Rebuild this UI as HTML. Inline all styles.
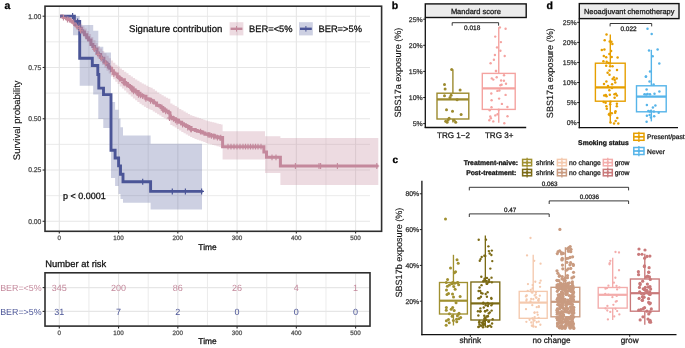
<!DOCTYPE html>
<html><head><meta charset="utf-8"><style>
html,body{margin:0;padding:0;background:#fff;}
svg{display:block;will-change:transform;text-rendering:geometricPrecision;}
</style></head><body>
<svg width="685" height="348" viewBox="0 0 685 348">
<rect width="685" height="348" fill="#fff"/>
<line x1="59.3" y1="6.5" x2="59.3" y2="230.8" stroke="#e6e6e6" stroke-width="1.1"/>
<line x1="88.93" y1="6.5" x2="88.93" y2="230.8" stroke="#e6e6e6" stroke-width="0.8"/>
<line x1="118.56" y1="6.5" x2="118.56" y2="230.8" stroke="#e6e6e6" stroke-width="1.1"/>
<line x1="148.19" y1="6.5" x2="148.19" y2="230.8" stroke="#e6e6e6" stroke-width="0.8"/>
<line x1="177.82" y1="6.5" x2="177.82" y2="230.8" stroke="#e6e6e6" stroke-width="1.1"/>
<line x1="207.45" y1="6.5" x2="207.45" y2="230.8" stroke="#e6e6e6" stroke-width="0.8"/>
<line x1="237.08" y1="6.5" x2="237.08" y2="230.8" stroke="#e6e6e6" stroke-width="1.1"/>
<line x1="266.71" y1="6.5" x2="266.71" y2="230.8" stroke="#e6e6e6" stroke-width="0.8"/>
<line x1="296.34" y1="6.5" x2="296.34" y2="230.8" stroke="#e6e6e6" stroke-width="1.1"/>
<line x1="325.97" y1="6.5" x2="325.97" y2="230.8" stroke="#e6e6e6" stroke-width="0.8"/>
<line x1="355.6" y1="6.5" x2="355.6" y2="230.8" stroke="#e6e6e6" stroke-width="1.1"/>
<line x1="45.5" y1="221.3" x2="370" y2="221.3" stroke="#e6e6e6" stroke-width="1.1"/>
<line x1="45.5" y1="195.66" x2="370" y2="195.66" stroke="#e6e6e6" stroke-width="0.8"/>
<line x1="45.5" y1="170.03" x2="370" y2="170.03" stroke="#e6e6e6" stroke-width="1.1"/>
<line x1="45.5" y1="144.39" x2="370" y2="144.39" stroke="#e6e6e6" stroke-width="0.8"/>
<line x1="45.5" y1="118.75" x2="370" y2="118.75" stroke="#e6e6e6" stroke-width="1.1"/>
<line x1="45.5" y1="93.11" x2="370" y2="93.11" stroke="#e6e6e6" stroke-width="0.8"/>
<line x1="45.5" y1="67.48" x2="370" y2="67.48" stroke="#e6e6e6" stroke-width="1.1"/>
<line x1="45.5" y1="41.84" x2="370" y2="41.84" stroke="#e6e6e6" stroke-width="0.8"/>
<line x1="45.5" y1="16.2" x2="370" y2="16.2" stroke="#e6e6e6" stroke-width="1.1"/>
<path d="M60.3,16.1 H61.48 V16.63 H63.25 V17.27 H64.07 V17.53 H66.46 V18.77 H68.02 V19.55 H70.21 V20.92 H72.09 V21.64 H73.83 V23.05 H75.39 V24.72 H77.33 V26.64 H78.84 V27.94 H79.8 V28.26 H81.3 V30.7 H82.71 V32.07 H84.45 V34.76 H86.73 V37.77 H88.61 V40.08 H90.95 V44.54 H92.89 V46.6 H94.61 V49.09 H97 V53.03 H98.45 V54.47 H100.65 V57.36 H101.52 V58.16 H103.89 V61.8 H105.19 V62.38 H106.04 V63.24 H107.09 V64.51 H108.39 V66.99 H109.79 V68.34 H111.62 V70.79 H113.41 V73.08 H114.9 V74.11 H117.27 V76.75 H118.09 V76.71 H118.92 V77.71 H119.82 V78.53 H121.18 V79.91 H122.01 V79.87 H124.36 V82.62 H125.67 V83.38 H127.42 V84.94 H128.26 V85.46 H129.56 V86.42 H130.74 V87.3 H131.71 V88.1 H133.21 V89.96 H135.05 V91.37 H136.04 V91.5 H138.18 V93.19 H140.01 V94.9 H141.28 V95.42 H142.74 V96.09 H143.79 V96.29 H146 V98.81 H148.28 V99.21 H150.42 V100.33 H151.69 V100.73 H153.43 V102.22 H154.3 V103.04 H156.58 V105.15 H158.3 V105.38 H159.38 V106.12 H161.02 V107.52 H162.8 V108.75 H164.36 V110.12 H166.01 V111.33 H168.29 V112.45 H169.1 V112.88 H169.98 V118 H171.46 V117.55 H172.26 V117.42 H173.17 V118.66 H174.11 V118.77 H175.47 V119.79 H176.85 V120.37 H178.54 V121.97 H179.62 V122.19 H181.67 V123.66 H183.47 V124.64 H185.4 V125.78 H186.93 V126.41 H188.85 V127.48 H191.05 V129.44 H193.12 V129.39 H195.22 V130.46 H197.29 V131.19 H198.99 V131.28 H199.8 V131.44 H200.67 V131.72 H201.75 V132.09 H202.75 V133.08 H204.89 V134.13 H206.96 V134.08 H208.58 V134.94 H210.88 V135.15 H213 V135.86 H214.79 V136.7 H216.22 V136.72 H217.82 V137.68 H218.88 V137.67 H220.76 V138.15 H220.8 V137.62 H222.6 V146.7 H263.9 V152 H266.5 V157.3 H280.4 V166 H378.3" fill="none" stroke="#c4899c" stroke-width="3.0" stroke-linejoin="miter"/>
<path d="M60.1,16.1 H74.4 V21.5 H79.7 V58.3 H92.3 V65.5 H97.8 V74.5 H98.8 V88.1 H103.5 V94.6 H111 V150.3 H115.1 V158 H118.6 V165.9 H120.5 V174.2 H123 V181.7 H150.6 V191.4 H202.6" fill="none" stroke="#4b5597" stroke-width="2.9"/>
<path d="M60.3,14.56 L62.5,14.56 L62.5,14.84 L64.7,14.84 L64.7,15.15 L66.9,15.15 L66.9,15.95 L69.1,15.95 L69.1,16.76 L71.3,16.76 L71.3,17.76 L73.5,17.76 L73.5,18.83 L75.7,18.83 L75.7,20.32 L77.9,20.32 L77.9,21.81 L80.1,21.81 L80.1,23.87 L82.3,23.87 L82.3,26.19 L84.5,26.19 L84.5,28.56 L86.7,28.56 L86.7,30.95 L88.9,30.95 L88.9,34.03 L91.1,34.03 L91.1,37.05 L93.3,37.05 L93.3,40.03 L95.5,40.03 L95.5,43.02 L97.7,43.02 L97.7,46.01 L99.9,46.01 L99.9,48.51 L102.1,48.51 L102.1,50.92 L104.3,50.92 L104.3,53.34 L106.5,53.34 L106.5,55.75 L108.7,55.75 L108.7,58.15 L110.9,58.15 L110.9,60.48 L113.1,60.48 L113.1,62.76 L115.3,62.76 L115.3,64.7 L117.5,64.7 L117.5,66.62 L119.7,66.62 L119.7,68.48 L121.9,68.48 L121.9,70.1 L124.1,70.1 L124.1,71.73 L126.3,71.73 L126.3,73.36 L128.5,73.36 L128.5,74.92 L130.7,74.92 L130.7,76.49 L132.9,76.49 L132.9,78.06 L135.1,78.06 L135.1,79.45 L137.3,79.45 L137.3,80.82 L139.5,80.82 L139.5,82.19 L141.7,82.19 L141.7,83.4 L143.9,83.4 L143.9,84.55 L146.1,84.55 L146.1,85.81 L148.3,85.81 L148.3,86.88 L150.5,86.88 L150.5,87.8 L152.7,87.8 L152.7,89.25 L154.9,89.25 L154.9,90.85 L157.1,90.85 L157.1,92.39 L159.3,92.39 L159.3,93.88 L161.5,93.88 L161.5,95.23 L163.7,95.23 L163.7,96.54 L165.9,96.54 L165.9,97.85 L168.1,97.85 L168.1,98.74 L170.3,98.74 L170.3,103.57 L172.5,103.57 L172.5,104.78 L174.7,104.78 L174.7,105.99 L176.9,105.99 L176.9,107.43 L179.1,107.43 L179.1,108.9 L181.3,108.9 L181.3,110.23 L183.5,110.23 L183.5,111.46 L185.7,111.46 L185.7,112.68 L187.9,112.68 L187.9,113.91 L190.1,113.91 L190.1,115.14 L192.3,115.14 L192.3,116.03 L194.5,116.03 L194.5,116.78 L196.7,116.78 L196.7,117.52 L198.9,117.52 L198.9,118.26 L201.1,118.26 L201.1,119.01 L203.3,119.01 L203.3,119.75 L205.5,119.75 L205.5,120.49 L207.7,120.49 L207.7,121.15 L209.9,121.15 L209.9,121.73 L212.1,121.73 L212.1,122.3 L214.3,122.3 L214.3,122.87 L216.5,122.87 L216.5,123.43 L218.7,123.43 L218.7,123.99 L220.9,123.99 L220.9,124.55 L222.6,124.55 L222.6,131.2 L265,131.2 L265,136.3 L280.4,136.3 L280.4,138.1 L378.3,138.1 L378.3,184.9 L280.4,184.9 L280.4,173.1 L265,173.1 L265,159.4 L222.6,159.4 L222.6,147.4 L220.9,147.4 L220.9,146.78 L218.7,146.78 L218.7,146.16 L216.5,146.16 L216.5,145.53 L214.3,145.53 L214.3,144.9 L212.1,144.9 L212.1,144.27 L209.9,144.27 L209.9,143.63 L207.7,143.63 L207.7,142.91 L205.5,142.91 L205.5,142.11 L203.3,142.11 L203.3,141.3 L201.1,141.3 L201.1,140.5 L198.9,140.5 L198.9,139.69 L196.7,139.69 L196.7,138.89 L194.5,138.89 L194.5,138.08 L192.3,138.08 L192.3,137.12 L190.1,137.12 L190.1,135.83 L187.9,135.83 L187.9,134.54 L185.7,134.54 L185.7,133.26 L183.5,133.26 L183.5,131.97 L181.3,131.97 L181.3,130.59 L179.1,130.59 L179.1,129.07 L176.9,129.07 L176.9,127.58 L174.7,127.58 L174.7,126.33 L172.5,126.33 L172.5,125.08 L170.3,125.08 L170.3,120.28 L168.1,120.28 L168.1,119.43 L165.9,119.43 L165.9,118.16 L163.7,118.16 L163.7,116.9 L161.5,116.9 L161.5,115.62 L159.3,115.62 L159.3,114.26 L157.1,114.26 L157.1,112.86 L154.9,112.86 L154.9,111.38 L152.7,111.38 L152.7,110.07 L150.5,110.07 L150.5,109.18 L148.3,109.18 L148.3,108.11 L146.1,108.11 L146.1,106.68 L143.9,106.68 L143.9,105.19 L141.7,105.19 L141.7,103.65 L139.5,103.65 L139.5,101.94 L137.3,101.94 L137.3,100.23 L135.1,100.23 L135.1,98.5 L132.9,98.5 L132.9,96.6 L130.7,96.6 L130.7,94.62 L128.5,94.62 L128.5,92.62 L126.3,92.62 L126.3,90.55 L124.1,90.55 L124.1,88.48 L121.9,88.48 L121.9,86.41 L119.7,86.41 L119.7,84.06 L117.5,84.06 L117.5,81.64 L115.3,81.64 L115.3,79.21 L113.1,79.21 L113.1,76.43 L110.9,76.43 L110.9,73.61 L108.7,73.61 L108.7,70.71 L106.5,70.71 L106.5,67.81 L104.3,67.81 L104.3,64.9 L102.1,64.9 L102.1,61.98 L99.9,61.98 L99.9,58.82 L97.7,58.82 L97.7,55.17 L95.5,55.17 L95.5,51.52 L93.3,51.52 L93.3,47.88 L91.1,47.88 L91.1,44.31 L88.9,44.31 L88.9,40.79 L86.7,40.79 L86.7,37.96 L84.5,37.96 L84.5,35.15 L82.3,35.15 L82.3,32.39 L80.1,32.39 L80.1,29.78 L77.9,29.78 L77.9,27.75 L75.7,27.75 L75.7,25.71 L73.5,25.71 L73.5,24.09 L71.3,24.09 L71.3,22.49 L69.1,22.49 L69.1,21.02 L66.9,21.02 L66.9,19.56 L64.7,19.56 L64.7,18.59 L62.5,18.59 L62.5,17.65 L60.3,17.65 Z" fill="#c4899c" fill-opacity="0.3"/>
<path d="M73,16.1 L79.7,16.1 L79.7,25 L93.2,25 L93.2,30.7 L98.3,30.7 L98.3,46.8 L103.3,46.8 L103.3,52.5 L111,52.5 L111,101.9 L115.1,101.9 L115.1,109.8 L118.6,109.8 L118.6,118.5 L120.5,118.5 L120.5,127.2 L123,127.2 L123,135.5 L150.6,135.5 L150.6,143.8 L202,143.8 L202,209.5 L150.6,209.5 L150.6,202.8 L123,202.8 L123,199 L120.5,199 L120.5,194 L118.6,194 L118.6,186 L115.1,186 L115.1,178 L111,178 L111,128 L103.3,128 L103.3,119.1 L98.3,119.1 L98.3,94.4 L93.2,94.4 L93.2,85.8 L79.7,85.8 L79.7,35.3 L73,35.3 Z" fill="#4b5597" fill-opacity="0.28"/>
<path d="M63.44,14.63 V20.43 M61.04,17.53 H65.84" stroke="#c4899c" stroke-width="1.1" fill="none"/>
<path d="M67.45,16.65 V22.45 M65.05,19.55 H69.85" stroke="#c4899c" stroke-width="1.1" fill="none"/>
<path d="M73.6,20.15 V25.95 M71.2,23.05 H76" stroke="#c4899c" stroke-width="1.1" fill="none"/>
<path d="M76.94,23.74 V29.54 M74.54,26.64 H79.34" stroke="#c4899c" stroke-width="1.1" fill="none"/>
<path d="M79.77,25.36 V31.16 M77.37,28.26 H82.17" stroke="#c4899c" stroke-width="1.1" fill="none"/>
<path d="M80.56,27.8 V33.6 M78.16,30.7 H82.96" stroke="#c4899c" stroke-width="1.1" fill="none"/>
<path d="M94.36,46.19 V51.99 M91.96,49.09 H96.76" stroke="#c4899c" stroke-width="1.1" fill="none"/>
<path d="M98.12,51.57 V57.37 M95.72,54.47 H100.52" stroke="#c4899c" stroke-width="1.1" fill="none"/>
<path d="M101.42,55.26 V61.06 M99.02,58.16 H103.82" stroke="#c4899c" stroke-width="1.1" fill="none"/>
<path d="M105.7,60.34 V66.14 M103.3,63.24 H108.1" stroke="#c4899c" stroke-width="1.1" fill="none"/>
<path d="M113.86,71.21 V77.01 M111.46,74.11 H116.26" stroke="#c4899c" stroke-width="1.1" fill="none"/>
<path d="M119.53,75.63 V81.43 M117.13,78.53 H121.93" stroke="#c4899c" stroke-width="1.1" fill="none"/>
<path d="M123.4,79.72 V85.52 M121,82.62 H125.8" stroke="#c4899c" stroke-width="1.1" fill="none"/>
<path d="M124.84,80.48 V86.28 M122.44,83.38 H127.24" stroke="#c4899c" stroke-width="1.1" fill="none"/>
<path d="M127.02,82.04 V87.84 M124.62,84.94 H129.42" stroke="#c4899c" stroke-width="1.1" fill="none"/>
<path d="M130.39,84.4 V90.2 M127.99,87.3 H132.79" stroke="#c4899c" stroke-width="1.1" fill="none"/>
<path d="M131.54,85.2 V91 M129.14,88.1 H133.94" stroke="#c4899c" stroke-width="1.1" fill="none"/>
<path d="M132.21,87.06 V92.86 M129.81,89.96 H134.61" stroke="#c4899c" stroke-width="1.1" fill="none"/>
<path d="M133.62,88.47 V94.27 M131.22,91.37 H136.02" stroke="#c4899c" stroke-width="1.1" fill="none"/>
<path d="M135.85,88.6 V94.4 M133.45,91.5 H138.25" stroke="#c4899c" stroke-width="1.1" fill="none"/>
<path d="M137.77,90.29 V96.09 M135.37,93.19 H140.17" stroke="#c4899c" stroke-width="1.1" fill="none"/>
<path d="M138.42,92 V97.8 M136.02,94.9 H140.82" stroke="#c4899c" stroke-width="1.1" fill="none"/>
<path d="M140.45,92.52 V98.32 M138.05,95.42 H142.85" stroke="#c4899c" stroke-width="1.1" fill="none"/>
<path d="M142.63,93.19 V98.99 M140.23,96.09 H145.03" stroke="#c4899c" stroke-width="1.1" fill="none"/>
<path d="M145.89,95.91 V101.71 M143.49,98.81 H148.29" stroke="#c4899c" stroke-width="1.1" fill="none"/>
<path d="M150.51,97.83 V103.63 M148.11,100.73 H152.91" stroke="#c4899c" stroke-width="1.1" fill="none"/>
<path d="M162.55,105.85 V111.65 M160.15,108.75 H164.95" stroke="#c4899c" stroke-width="1.1" fill="none"/>
<path d="M163.1,107.22 V113.02 M160.7,110.12 H165.5" stroke="#c4899c" stroke-width="1.1" fill="none"/>
<path d="M165.67,108.43 V114.23 M163.27,111.33 H168.07" stroke="#c4899c" stroke-width="1.1" fill="none"/>
<path d="M169.57,115.1 V120.9 M167.17,118 H171.97" stroke="#c4899c" stroke-width="1.1" fill="none"/>
<path d="M171.56,114.52 V120.32 M169.16,117.42 H173.96" stroke="#c4899c" stroke-width="1.1" fill="none"/>
<path d="M173.47,115.87 V121.67 M171.07,118.77 H175.87" stroke="#c4899c" stroke-width="1.1" fill="none"/>
<path d="M175.64,117.47 V123.27 M173.24,120.37 H178.04" stroke="#c4899c" stroke-width="1.1" fill="none"/>
<path d="M176.98,119.07 V124.87 M174.58,121.97 H179.38" stroke="#c4899c" stroke-width="1.1" fill="none"/>
<path d="M182.57,121.74 V127.54 M180.17,124.64 H184.97" stroke="#c4899c" stroke-width="1.1" fill="none"/>
<path d="M187.75,124.58 V130.38 M185.35,127.48 H190.15" stroke="#c4899c" stroke-width="1.1" fill="none"/>
<path d="M190.83,126.54 V132.34 M188.43,129.44 H193.23" stroke="#c4899c" stroke-width="1.1" fill="none"/>
<path d="M191.31,126.49 V132.29 M188.91,129.39 H193.71" stroke="#c4899c" stroke-width="1.1" fill="none"/>
<path d="M200.56,128.82 V134.62 M198.16,131.72 H202.96" stroke="#c4899c" stroke-width="1.1" fill="none"/>
<path d="M208.18,132.04 V137.84 M205.78,134.94 H210.58" stroke="#c4899c" stroke-width="1.1" fill="none"/>
<path d="M209.88,132.25 V138.05 M207.48,135.15 H212.28" stroke="#c4899c" stroke-width="1.1" fill="none"/>
<path d="M211.41,132.96 V138.76 M209.01,135.86 H213.81" stroke="#c4899c" stroke-width="1.1" fill="none"/>
<path d="M213.66,133.8 V139.6 M211.26,136.7 H216.06" stroke="#c4899c" stroke-width="1.1" fill="none"/>
<path d="M214.91,133.82 V139.62 M212.51,136.72 H217.31" stroke="#c4899c" stroke-width="1.1" fill="none"/>
<path d="M217.42,134.78 V140.58 M215.02,137.68 H219.82" stroke="#c4899c" stroke-width="1.1" fill="none"/>
<path d="M220.09,135.25 V141.05 M217.69,138.15 H222.49" stroke="#c4899c" stroke-width="1.1" fill="none"/>
<path d="M220.79,134.72 V140.52 M218.39,137.62 H223.19" stroke="#c4899c" stroke-width="1.1" fill="none"/>
<path d="M228,143.8 V149.6 M225.6,146.7 H230.4" stroke="#c4899c" stroke-width="1.1" fill="none"/>
<path d="M231,143.8 V149.6 M228.6,146.7 H233.4" stroke="#c4899c" stroke-width="1.1" fill="none"/>
<path d="M234,143.8 V149.6 M231.6,146.7 H236.4" stroke="#c4899c" stroke-width="1.1" fill="none"/>
<path d="M237,143.8 V149.6 M234.6,146.7 H239.4" stroke="#c4899c" stroke-width="1.1" fill="none"/>
<path d="M240,143.8 V149.6 M237.6,146.7 H242.4" stroke="#c4899c" stroke-width="1.1" fill="none"/>
<path d="M243,143.8 V149.6 M240.6,146.7 H245.4" stroke="#c4899c" stroke-width="1.1" fill="none"/>
<path d="M245.5,143.8 V149.6 M243.1,146.7 H247.9" stroke="#c4899c" stroke-width="1.1" fill="none"/>
<path d="M248,143.8 V149.6 M245.6,146.7 H250.4" stroke="#c4899c" stroke-width="1.1" fill="none"/>
<path d="M250.5,143.8 V149.6 M248.1,146.7 H252.9" stroke="#c4899c" stroke-width="1.1" fill="none"/>
<path d="M253,143.8 V149.6 M250.6,146.7 H255.4" stroke="#c4899c" stroke-width="1.1" fill="none"/>
<path d="M255.5,143.8 V149.6 M253.1,146.7 H257.9" stroke="#c4899c" stroke-width="1.1" fill="none"/>
<path d="M258,143.8 V149.6 M255.6,146.7 H260.4" stroke="#c4899c" stroke-width="1.1" fill="none"/>
<path d="M261,143.8 V149.6 M258.6,146.7 H263.4" stroke="#c4899c" stroke-width="1.1" fill="none"/>
<path d="M272,154.4 V160.2 M269.6,157.3 H274.4" stroke="#c4899c" stroke-width="1.1" fill="none"/>
<path d="M276,154.4 V160.2 M273.6,157.3 H278.4" stroke="#c4899c" stroke-width="1.1" fill="none"/>
<path d="M295.4,163.1 V168.9 M293,166 H297.8" stroke="#c4899c" stroke-width="1.1" fill="none"/>
<path d="M319,163.1 V168.9 M316.6,166 H321.4" stroke="#c4899c" stroke-width="1.1" fill="none"/>
<path d="M320.6,163.1 V168.9 M318.2,166 H323" stroke="#c4899c" stroke-width="1.1" fill="none"/>
<path d="M337.4,163.1 V168.9 M335,166 H339.8" stroke="#c4899c" stroke-width="1.1" fill="none"/>
<path d="M376.8,163.1 V168.9 M374.4,166 H379.2" stroke="#c4899c" stroke-width="1.1" fill="none"/>
<path d="M72.6,13.1 V19.1 M70.2,16.1 H75" stroke="#4b5597" stroke-width="1.2" fill="none"/>
<path d="M77.6,18.5 V24.5 M75.2,21.5 H80" stroke="#4b5597" stroke-width="1.2" fill="none"/>
<path d="M142.7,178.7 V184.7 M140.3,181.7 H145.1" stroke="#4b5597" stroke-width="1.2" fill="none"/>
<path d="M172.3,188.4 V194.4 M169.9,191.4 H174.7" stroke="#4b5597" stroke-width="1.2" fill="none"/>
<path d="M185.4,188.4 V194.4 M183,191.4 H187.8" stroke="#4b5597" stroke-width="1.2" fill="none"/>
<path d="M201.6,188.4 V194.4 M199.2,191.4 H204" stroke="#4b5597" stroke-width="1.2" fill="none"/>
<rect x="45" y="6.2" width="336.6" height="225.1" fill="none" stroke="#2e2e2e" stroke-width="1.6"/>
<line x1="42.6" y1="16.2" x2="45" y2="16.2" stroke="#2e2e2e" stroke-width="1.1"/>
<text x="41.4" y="18.65" font-size="6.8" fill="#555" text-anchor="end" font-family="Liberation Sans, sans-serif" stroke="#555" stroke-width="0.28" stroke-linejoin="round">1.00</text>
<line x1="42.6" y1="67.48" x2="45" y2="67.48" stroke="#2e2e2e" stroke-width="1.1"/>
<text x="41.4" y="69.93" font-size="6.8" fill="#555" text-anchor="end" font-family="Liberation Sans, sans-serif" stroke="#555" stroke-width="0.28" stroke-linejoin="round">0.75</text>
<line x1="42.6" y1="118.75" x2="45" y2="118.75" stroke="#2e2e2e" stroke-width="1.1"/>
<text x="41.4" y="121.2" font-size="6.8" fill="#555" text-anchor="end" font-family="Liberation Sans, sans-serif" stroke="#555" stroke-width="0.28" stroke-linejoin="round">0.50</text>
<line x1="42.6" y1="170.03" x2="45" y2="170.03" stroke="#2e2e2e" stroke-width="1.1"/>
<text x="41.4" y="172.47" font-size="6.8" fill="#555" text-anchor="end" font-family="Liberation Sans, sans-serif" stroke="#555" stroke-width="0.28" stroke-linejoin="round">0.25</text>
<line x1="42.6" y1="221.3" x2="45" y2="221.3" stroke="#2e2e2e" stroke-width="1.1"/>
<text x="41.4" y="223.75" font-size="6.8" fill="#555" text-anchor="end" font-family="Liberation Sans, sans-serif" stroke="#555" stroke-width="0.28" stroke-linejoin="round">0.00</text>
<line x1="59.3" y1="231.3" x2="59.3" y2="233.6" stroke="#2e2e2e" stroke-width="1.1"/>
<text x="59.3" y="240.4" font-size="6.3" fill="#555" text-anchor="middle" font-family="Liberation Sans, sans-serif" stroke="#555" stroke-width="0.28" stroke-linejoin="round">0</text>
<line x1="118.56" y1="231.3" x2="118.56" y2="233.6" stroke="#2e2e2e" stroke-width="1.1"/>
<text x="118.56" y="240.4" font-size="6.3" fill="#555" text-anchor="middle" font-family="Liberation Sans, sans-serif" stroke="#555" stroke-width="0.28" stroke-linejoin="round">100</text>
<line x1="177.82" y1="231.3" x2="177.82" y2="233.6" stroke="#2e2e2e" stroke-width="1.1"/>
<text x="177.82" y="240.4" font-size="6.3" fill="#555" text-anchor="middle" font-family="Liberation Sans, sans-serif" stroke="#555" stroke-width="0.28" stroke-linejoin="round">200</text>
<line x1="237.08" y1="231.3" x2="237.08" y2="233.6" stroke="#2e2e2e" stroke-width="1.1"/>
<text x="237.08" y="240.4" font-size="6.3" fill="#555" text-anchor="middle" font-family="Liberation Sans, sans-serif" stroke="#555" stroke-width="0.28" stroke-linejoin="round">300</text>
<line x1="296.34" y1="231.3" x2="296.34" y2="233.6" stroke="#2e2e2e" stroke-width="1.1"/>
<text x="296.34" y="240.4" font-size="6.3" fill="#555" text-anchor="middle" font-family="Liberation Sans, sans-serif" stroke="#555" stroke-width="0.28" stroke-linejoin="round">400</text>
<line x1="355.6" y1="231.3" x2="355.6" y2="233.6" stroke="#2e2e2e" stroke-width="1.1"/>
<text x="355.6" y="240.4" font-size="6.3" fill="#555" text-anchor="middle" font-family="Liberation Sans, sans-serif" stroke="#555" stroke-width="0.28" stroke-linejoin="round">500</text>
<text x="207.5" y="249.6" font-size="8.4" fill="#111" text-anchor="middle" font-family="Liberation Sans, sans-serif" stroke="#111" stroke-width="0.28" stroke-linejoin="round">Time</text>
<text transform="translate(20.3,120.3) rotate(-90)" font-size="9.5" fill="#111" text-anchor="middle" font-family="Liberation Sans, sans-serif" stroke="#111" stroke-width="0.12" stroke-linejoin="round">Survival probability</text>
<text x="4.6" y="9.2" font-size="10.5" font-weight="bold" fill="#000" font-family="Liberation Sans, sans-serif" stroke="#000" stroke-width="0.28" stroke-linejoin="round">a</text>
<text x="129.1" y="32.2" font-size="9.6" fill="#111" font-family="Liberation Sans, sans-serif" stroke="#111" stroke-width="0.28" stroke-linejoin="round">Signature contribution</text>
<rect x="229.6" y="22.2" width="13.8" height="13.2" fill="#c4899c" fill-opacity="0.3"/>
<line x1="230.6" y1="28.8" x2="242.4" y2="28.8" stroke="#c4899c" stroke-width="2.4"/>
<line x1="236.5" y1="26" x2="236.5" y2="31.6" stroke="#c4899c" stroke-width="1"/>
<text x="249.1" y="31.9" font-size="9.3" fill="#111" font-family="Liberation Sans, sans-serif" stroke="#111" stroke-width="0.28" stroke-linejoin="round">BER=&lt;5%</text>
<rect x="299" y="22.2" width="13.8" height="13.2" fill="#4b5597" fill-opacity="0.28"/>
<line x1="300" y1="28.8" x2="311.8" y2="28.8" stroke="#4b5597" stroke-width="2.4"/>
<line x1="305.9" y1="26" x2="305.9" y2="31.6" stroke="#4b5597" stroke-width="1"/>
<text x="318.5" y="31.9" font-size="9.3" fill="#111" font-family="Liberation Sans, sans-serif" stroke="#111" stroke-width="0.28" stroke-linejoin="round">BER=&gt;5%</text>
<text x="63" y="198.8" font-size="9" fill="#111" font-family="Liberation Sans, sans-serif" stroke="#111" stroke-width="0.28" stroke-linejoin="round">p &lt; 0.0001</text>
<text x="45.3" y="266.8" font-size="9.4" fill="#111" font-family="Liberation Sans, sans-serif" stroke="#111" stroke-width="0.28" stroke-linejoin="round">Number at risk</text>
<line x1="59.3" y1="273.5" x2="59.3" y2="325.5" stroke="#e6e6e6" stroke-width="1.1"/>
<line x1="88.93" y1="273.5" x2="88.93" y2="325.5" stroke="#e6e6e6" stroke-width="0.8"/>
<line x1="118.56" y1="273.5" x2="118.56" y2="325.5" stroke="#e6e6e6" stroke-width="1.1"/>
<line x1="148.19" y1="273.5" x2="148.19" y2="325.5" stroke="#e6e6e6" stroke-width="0.8"/>
<line x1="177.82" y1="273.5" x2="177.82" y2="325.5" stroke="#e6e6e6" stroke-width="1.1"/>
<line x1="207.45" y1="273.5" x2="207.45" y2="325.5" stroke="#e6e6e6" stroke-width="0.8"/>
<line x1="237.08" y1="273.5" x2="237.08" y2="325.5" stroke="#e6e6e6" stroke-width="1.1"/>
<line x1="266.71" y1="273.5" x2="266.71" y2="325.5" stroke="#e6e6e6" stroke-width="0.8"/>
<line x1="296.34" y1="273.5" x2="296.34" y2="325.5" stroke="#e6e6e6" stroke-width="1.1"/>
<line x1="325.97" y1="273.5" x2="325.97" y2="325.5" stroke="#e6e6e6" stroke-width="0.8"/>
<line x1="355.6" y1="273.5" x2="355.6" y2="325.5" stroke="#e6e6e6" stroke-width="1.1"/>
<line x1="45.5" y1="287.6" x2="369.5" y2="287.6" stroke="#e6e6e6" stroke-width="1.1"/>
<line x1="45.5" y1="311.4" x2="369.5" y2="311.4" stroke="#e6e6e6" stroke-width="1.1"/>
<rect x="45" y="272.8" width="325" height="53.3" fill="none" stroke="#2e2e2e" stroke-width="1.6"/>
<line x1="42.6" y1="287.6" x2="45" y2="287.6" stroke="#2e2e2e" stroke-width="1.1"/>
<text x="41.6" y="290.7" font-size="8.9" fill="#c4899c" text-anchor="end" font-family="Liberation Sans, sans-serif" stroke="#c4899c" stroke-width="0.0" stroke-linejoin="round">BER=&lt;5%</text>
<text x="59.3" y="290.8" font-size="9" fill="#c4899c" text-anchor="middle" font-family="Liberation Sans, sans-serif" stroke="#c4899c" stroke-width="0.0" stroke-linejoin="round">345</text>
<text x="118.56" y="290.8" font-size="9" fill="#c4899c" text-anchor="middle" font-family="Liberation Sans, sans-serif" stroke="#c4899c" stroke-width="0.0" stroke-linejoin="round">200</text>
<text x="177.82" y="290.8" font-size="9" fill="#c4899c" text-anchor="middle" font-family="Liberation Sans, sans-serif" stroke="#c4899c" stroke-width="0.0" stroke-linejoin="round">86</text>
<text x="237.08" y="290.8" font-size="9" fill="#c4899c" text-anchor="middle" font-family="Liberation Sans, sans-serif" stroke="#c4899c" stroke-width="0.0" stroke-linejoin="round">26</text>
<text x="296.34" y="290.8" font-size="9" fill="#c4899c" text-anchor="middle" font-family="Liberation Sans, sans-serif" stroke="#c4899c" stroke-width="0.0" stroke-linejoin="round">4</text>
<text x="355.6" y="290.8" font-size="9" fill="#c4899c" text-anchor="middle" font-family="Liberation Sans, sans-serif" stroke="#c4899c" stroke-width="0.0" stroke-linejoin="round">1</text>
<line x1="42.6" y1="311.4" x2="45" y2="311.4" stroke="#2e2e2e" stroke-width="1.1"/>
<text x="41.6" y="314.5" font-size="8.9" fill="#4b5597" text-anchor="end" font-family="Liberation Sans, sans-serif" stroke="#4b5597" stroke-width="0.0" stroke-linejoin="round">BER=&gt;5%</text>
<text x="59.3" y="314.6" font-size="9" fill="#4b5597" text-anchor="middle" font-family="Liberation Sans, sans-serif" stroke="#4b5597" stroke-width="0.0" stroke-linejoin="round">31</text>
<text x="118.56" y="314.6" font-size="9" fill="#4b5597" text-anchor="middle" font-family="Liberation Sans, sans-serif" stroke="#4b5597" stroke-width="0.0" stroke-linejoin="round">7</text>
<text x="177.82" y="314.6" font-size="9" fill="#4b5597" text-anchor="middle" font-family="Liberation Sans, sans-serif" stroke="#4b5597" stroke-width="0.0" stroke-linejoin="round">2</text>
<text x="237.08" y="314.6" font-size="9" fill="#4b5597" text-anchor="middle" font-family="Liberation Sans, sans-serif" stroke="#4b5597" stroke-width="0.0" stroke-linejoin="round">0</text>
<text x="296.34" y="314.6" font-size="9" fill="#4b5597" text-anchor="middle" font-family="Liberation Sans, sans-serif" stroke="#4b5597" stroke-width="0.0" stroke-linejoin="round">0</text>
<text x="355.6" y="314.6" font-size="9" fill="#4b5597" text-anchor="middle" font-family="Liberation Sans, sans-serif" stroke="#4b5597" stroke-width="0.0" stroke-linejoin="round">0</text>
<line x1="59.3" y1="326.1" x2="59.3" y2="328.4" stroke="#2e2e2e" stroke-width="1.1"/>
<text x="59.3" y="334.8" font-size="6.3" fill="#555" text-anchor="middle" font-family="Liberation Sans, sans-serif" stroke="#555" stroke-width="0.28" stroke-linejoin="round">0</text>
<line x1="118.56" y1="326.1" x2="118.56" y2="328.4" stroke="#2e2e2e" stroke-width="1.1"/>
<text x="118.56" y="334.8" font-size="6.3" fill="#555" text-anchor="middle" font-family="Liberation Sans, sans-serif" stroke="#555" stroke-width="0.28" stroke-linejoin="round">100</text>
<line x1="177.82" y1="326.1" x2="177.82" y2="328.4" stroke="#2e2e2e" stroke-width="1.1"/>
<text x="177.82" y="334.8" font-size="6.3" fill="#555" text-anchor="middle" font-family="Liberation Sans, sans-serif" stroke="#555" stroke-width="0.28" stroke-linejoin="round">200</text>
<line x1="237.08" y1="326.1" x2="237.08" y2="328.4" stroke="#2e2e2e" stroke-width="1.1"/>
<text x="237.08" y="334.8" font-size="6.3" fill="#555" text-anchor="middle" font-family="Liberation Sans, sans-serif" stroke="#555" stroke-width="0.28" stroke-linejoin="round">300</text>
<line x1="296.34" y1="326.1" x2="296.34" y2="328.4" stroke="#2e2e2e" stroke-width="1.1"/>
<text x="296.34" y="334.8" font-size="6.3" fill="#555" text-anchor="middle" font-family="Liberation Sans, sans-serif" stroke="#555" stroke-width="0.28" stroke-linejoin="round">400</text>
<line x1="355.6" y1="326.1" x2="355.6" y2="328.4" stroke="#2e2e2e" stroke-width="1.1"/>
<text x="355.6" y="334.8" font-size="6.3" fill="#555" text-anchor="middle" font-family="Liberation Sans, sans-serif" stroke="#555" stroke-width="0.28" stroke-linejoin="round">500</text>
<text x="207.5" y="344.3" font-size="8.4" fill="#111" text-anchor="middle" font-family="Liberation Sans, sans-serif" stroke="#111" stroke-width="0.28" stroke-linejoin="round">Time</text>
<text x="391.7" y="8.6" font-size="10.5" font-weight="bold" fill="#000" font-family="Liberation Sans, sans-serif" stroke="#000" stroke-width="0.28" stroke-linejoin="round">b</text>
<rect x="425.3" y="3.9" width="100.9" height="13.6" fill="#ebebeb" stroke="#111" stroke-width="1.4"/><text x="475.9" y="13.9" font-size="7.5" fill="#1a1a1a" text-anchor="middle" font-family="Liberation Sans, sans-serif" stroke="#1a1a1a" stroke-width="0.28" stroke-linejoin="round">Mandard score</text>
<line x1="423.2" y1="19.2" x2="425.3" y2="19.2" stroke="#222" stroke-width="1"/>
<text x="422.6" y="21.7" font-size="6.9" fill="#3a3a3a" text-anchor="end" font-family="Liberation Sans, sans-serif" stroke="#3a3a3a" stroke-width="0.28" stroke-linejoin="round">25%</text>
<line x1="423.2" y1="45.3" x2="425.3" y2="45.3" stroke="#222" stroke-width="1"/>
<text x="422.6" y="47.8" font-size="6.9" fill="#3a3a3a" text-anchor="end" font-family="Liberation Sans, sans-serif" stroke="#3a3a3a" stroke-width="0.28" stroke-linejoin="round">20%</text>
<line x1="423.2" y1="71.4" x2="425.3" y2="71.4" stroke="#222" stroke-width="1"/>
<text x="422.6" y="73.9" font-size="6.9" fill="#3a3a3a" text-anchor="end" font-family="Liberation Sans, sans-serif" stroke="#3a3a3a" stroke-width="0.28" stroke-linejoin="round">15%</text>
<line x1="423.2" y1="97.5" x2="425.3" y2="97.5" stroke="#222" stroke-width="1"/>
<text x="422.6" y="100" font-size="6.9" fill="#3a3a3a" text-anchor="end" font-family="Liberation Sans, sans-serif" stroke="#3a3a3a" stroke-width="0.28" stroke-linejoin="round">10%</text>
<line x1="423.2" y1="123.6" x2="425.3" y2="123.6" stroke="#222" stroke-width="1"/>
<text x="422.6" y="126.1" font-size="6.9" fill="#3a3a3a" text-anchor="end" font-family="Liberation Sans, sans-serif" stroke="#3a3a3a" stroke-width="0.28" stroke-linejoin="round">5%</text>
<line x1="452.9" y1="69.6" x2="452.9" y2="93.2" stroke="#9c8a2e" stroke-width="1.4"/>
<line x1="452.9" y1="119" x2="452.9" y2="122.5" stroke="#9c8a2e" stroke-width="1.4"/>
<rect x="437" y="93.2" width="31.8" height="25.8" fill="white" fill-opacity="0" stroke="#9c8a2e" stroke-width="1.4"/>
<line x1="437" y1="99.4" x2="468.8" y2="99.4" stroke="#9c8a2e" stroke-width="2.3"/>
<circle cx="451.7" cy="69.6" r="1.5" fill="#9c8a2e" fill-opacity="1"/>
<circle cx="444.5" cy="84.5" r="1.5" fill="#9c8a2e" fill-opacity="1"/>
<circle cx="445.1" cy="89.1" r="1.5" fill="#9c8a2e" fill-opacity="1"/>
<circle cx="460.1" cy="90.1" r="1.5" fill="#9c8a2e" fill-opacity="1"/>
<circle cx="444.5" cy="95.8" r="1.5" fill="#9c8a2e" fill-opacity="1"/>
<circle cx="451.1" cy="95.2" r="1.5" fill="#9c8a2e" fill-opacity="1"/>
<circle cx="457.1" cy="99.8" r="1.5" fill="#9c8a2e" fill-opacity="1"/>
<circle cx="446.5" cy="109.8" r="1.5" fill="#9c8a2e" fill-opacity="1"/>
<circle cx="452.5" cy="111.2" r="1.5" fill="#9c8a2e" fill-opacity="1"/>
<circle cx="461.1" cy="114.6" r="1.5" fill="#9c8a2e" fill-opacity="1"/>
<circle cx="445.7" cy="121.3" r="1.5" fill="#9c8a2e" fill-opacity="1"/>
<circle cx="448.1" cy="119.9" r="1.5" fill="#9c8a2e" fill-opacity="1"/>
<circle cx="449.1" cy="118.3" r="1.5" fill="#9c8a2e" fill-opacity="1"/>
<circle cx="454.1" cy="120.3" r="1.5" fill="#9c8a2e" fill-opacity="1"/>
<circle cx="455.7" cy="122.3" r="1.5" fill="#9c8a2e" fill-opacity="1"/>
<circle cx="447.1" cy="122.3" r="1.5" fill="#9c8a2e" fill-opacity="1"/>
<circle cx="450" cy="97.5" r="1.5" fill="#9c8a2e" fill-opacity="1"/>
<line x1="498.75" y1="27.2" x2="498.75" y2="73.4" stroke="#f4a3a0" stroke-width="1.4"/>
<line x1="498.75" y1="109.4" x2="498.75" y2="122.8" stroke="#f4a3a0" stroke-width="1.4"/>
<rect x="482.3" y="73.4" width="32.9" height="36" fill="white" fill-opacity="0" stroke="#f4a3a0" stroke-width="1.4"/>
<line x1="482.3" y1="88.3" x2="515.2" y2="88.3" stroke="#f4a3a0" stroke-width="2.3"/>
<circle cx="499.9" cy="27.4" r="1.2" fill="#f4a3a0" fill-opacity="1"/>
<circle cx="505.6" cy="28.8" r="1.2" fill="#f4a3a0" fill-opacity="1"/>
<circle cx="495.2" cy="36.6" r="1.2" fill="#f4a3a0" fill-opacity="1"/>
<circle cx="500.9" cy="42.1" r="1.2" fill="#f4a3a0" fill-opacity="1"/>
<circle cx="497" cy="47.4" r="1.2" fill="#f4a3a0" fill-opacity="1"/>
<circle cx="500.4" cy="50.7" r="1.2" fill="#f4a3a0" fill-opacity="1"/>
<circle cx="494.9" cy="55" r="1.2" fill="#f4a3a0" fill-opacity="1"/>
<circle cx="504.7" cy="56" r="1.2" fill="#f4a3a0" fill-opacity="1"/>
<circle cx="493.9" cy="59.8" r="1.2" fill="#f4a3a0" fill-opacity="1"/>
<circle cx="490.6" cy="63.3" r="1.2" fill="#f4a3a0" fill-opacity="1"/>
<circle cx="496.1" cy="71" r="1.2" fill="#f4a3a0" fill-opacity="1"/>
<circle cx="495.9" cy="71" r="1.2" fill="#f4a3a0" fill-opacity="1"/>
<circle cx="491.8" cy="78.4" r="1.2" fill="#f4a3a0" fill-opacity="1"/>
<circle cx="493.3" cy="79.6" r="1.2" fill="#f4a3a0" fill-opacity="1"/>
<circle cx="496.7" cy="77.3" r="1.2" fill="#f4a3a0" fill-opacity="1"/>
<circle cx="504" cy="75.3" r="1.2" fill="#f4a3a0" fill-opacity="1"/>
<circle cx="501.1" cy="80.5" r="1.2" fill="#f4a3a0" fill-opacity="1"/>
<circle cx="503.9" cy="80.7" r="1.2" fill="#f4a3a0" fill-opacity="1"/>
<circle cx="501.6" cy="84.8" r="1.2" fill="#f4a3a0" fill-opacity="1"/>
<circle cx="500.4" cy="85.2" r="1.2" fill="#f4a3a0" fill-opacity="1"/>
<circle cx="506" cy="83.7" r="1.2" fill="#f4a3a0" fill-opacity="1"/>
<circle cx="497.4" cy="90.9" r="1.2" fill="#f4a3a0" fill-opacity="1"/>
<circle cx="499.4" cy="90.5" r="1.2" fill="#f4a3a0" fill-opacity="1"/>
<circle cx="491.3" cy="93.5" r="1.2" fill="#f4a3a0" fill-opacity="1"/>
<circle cx="505.6" cy="94.9" r="1.2" fill="#f4a3a0" fill-opacity="1"/>
<circle cx="499.1" cy="98.6" r="1.2" fill="#f4a3a0" fill-opacity="1"/>
<circle cx="491.6" cy="100.3" r="1.2" fill="#f4a3a0" fill-opacity="1"/>
<circle cx="501.9" cy="103.9" r="1.2" fill="#f4a3a0" fill-opacity="1"/>
<circle cx="507.4" cy="107" r="1.2" fill="#f4a3a0" fill-opacity="1"/>
<circle cx="491.5" cy="107.2" r="1.2" fill="#f4a3a0" fill-opacity="1"/>
<circle cx="498.7" cy="109.8" r="1.2" fill="#f4a3a0" fill-opacity="1"/>
<circle cx="489.7" cy="110.3" r="1.2" fill="#f4a3a0" fill-opacity="1"/>
<circle cx="490.3" cy="116.5" r="1.2" fill="#f4a3a0" fill-opacity="1"/>
<circle cx="495.3" cy="115.4" r="1.2" fill="#f4a3a0" fill-opacity="1"/>
<circle cx="497.6" cy="114.3" r="1.2" fill="#f4a3a0" fill-opacity="1"/>
<circle cx="507.5" cy="116.3" r="1.2" fill="#f4a3a0" fill-opacity="1"/>
<circle cx="490.9" cy="118.2" r="1.2" fill="#f4a3a0" fill-opacity="1"/>
<circle cx="489.3" cy="120.2" r="1.2" fill="#f4a3a0" fill-opacity="1"/>
<circle cx="493.3" cy="121.4" r="1.2" fill="#f4a3a0" fill-opacity="1"/>
<circle cx="504.3" cy="123.3" r="1.2" fill="#f4a3a0" fill-opacity="1"/>
<path d="M452.2,25.7 V22.7 H498.6 V25.7" fill="none" stroke="#222" stroke-width="0.9"/>
<text x="472.2" y="29.6" font-size="6.5" fill="#222" text-anchor="middle" font-family="Liberation Sans, sans-serif" stroke="#222" stroke-width="0.28" stroke-linejoin="round">0.018</text>
<line x1="425.3" y1="17.5" x2="425.3" y2="128.1" stroke="#111" stroke-width="1.3"/>
<line x1="424.7" y1="127.5" x2="526.2" y2="127.5" stroke="#111" stroke-width="1.3"/>
<text x="453.5" y="138.2" font-size="8.1" fill="#222" text-anchor="middle" font-family="Liberation Sans, sans-serif" stroke="#222" stroke-width="0.28" stroke-linejoin="round">TRG 1−2</text>
<text x="499.2" y="138.2" font-size="8.1" fill="#222" text-anchor="middle" font-family="Liberation Sans, sans-serif" stroke="#222" stroke-width="0.28" stroke-linejoin="round">TRG 3+</text>
<text transform="translate(401.3,72.6) rotate(-90)" font-size="9.1" fill="#111" text-anchor="middle" font-family="Liberation Sans, sans-serif" stroke="#111" stroke-width="0.12" stroke-linejoin="round">SBS17a exposure (%)</text>
<text x="546.6" y="8.6" font-size="10.5" font-weight="bold" fill="#000" font-family="Liberation Sans, sans-serif" stroke="#000" stroke-width="0.28" stroke-linejoin="round">d</text>
<rect x="579.3" y="3.6" width="99.7" height="15" fill="#ebebeb" stroke="#111" stroke-width="1.4"/><text x="629.2" y="13.6" font-size="7.4" fill="#1a1a1a" text-anchor="middle" font-family="Liberation Sans, sans-serif" stroke="#1a1a1a" stroke-width="0.28" stroke-linejoin="round">Neoadjuvant chemotherapy</text>
<line x1="577.2" y1="22.35" x2="579.3" y2="22.35" stroke="#222" stroke-width="1"/>
<text x="576.6" y="24.85" font-size="6.9" fill="#3a3a3a" text-anchor="end" font-family="Liberation Sans, sans-serif" stroke="#3a3a3a" stroke-width="0.28" stroke-linejoin="round">25%</text>
<line x1="577.2" y1="42.4" x2="579.3" y2="42.4" stroke="#222" stroke-width="1"/>
<text x="576.6" y="44.9" font-size="6.9" fill="#3a3a3a" text-anchor="end" font-family="Liberation Sans, sans-serif" stroke="#3a3a3a" stroke-width="0.28" stroke-linejoin="round">20%</text>
<line x1="577.2" y1="62.45" x2="579.3" y2="62.45" stroke="#222" stroke-width="1"/>
<text x="576.6" y="64.95" font-size="6.9" fill="#3a3a3a" text-anchor="end" font-family="Liberation Sans, sans-serif" stroke="#3a3a3a" stroke-width="0.28" stroke-linejoin="round">15%</text>
<line x1="577.2" y1="82.5" x2="579.3" y2="82.5" stroke="#222" stroke-width="1"/>
<text x="576.6" y="85" font-size="6.9" fill="#3a3a3a" text-anchor="end" font-family="Liberation Sans, sans-serif" stroke="#3a3a3a" stroke-width="0.28" stroke-linejoin="round">10%</text>
<line x1="577.2" y1="102.55" x2="579.3" y2="102.55" stroke="#222" stroke-width="1"/>
<text x="576.6" y="105.05" font-size="6.9" fill="#3a3a3a" text-anchor="end" font-family="Liberation Sans, sans-serif" stroke="#3a3a3a" stroke-width="0.28" stroke-linejoin="round">5%</text>
<line x1="577.2" y1="122.6" x2="579.3" y2="122.6" stroke="#222" stroke-width="1"/>
<text x="576.6" y="125.1" font-size="6.9" fill="#3a3a3a" text-anchor="end" font-family="Liberation Sans, sans-serif" stroke="#3a3a3a" stroke-width="0.28" stroke-linejoin="round">0%</text>
<line x1="610.3" y1="34.5" x2="610.3" y2="63.2" stroke="#e69f00" stroke-width="1.4"/>
<line x1="610.3" y1="101.2" x2="610.3" y2="122.4" stroke="#e69f00" stroke-width="1.4"/>
<rect x="595.4" y="63.2" width="29.8" height="38" fill="white" fill-opacity="0" stroke="#e69f00" stroke-width="1.4"/>
<line x1="595.4" y1="87.4" x2="625.2" y2="87.4" stroke="#e69f00" stroke-width="2.3"/>
<circle cx="606.5" cy="34.5" r="1.25" fill="#e69f00" fill-opacity="1"/>
<circle cx="604.7" cy="40.2" r="1.25" fill="#e69f00" fill-opacity="1"/>
<circle cx="609.7" cy="41.5" r="1.25" fill="#e69f00" fill-opacity="1"/>
<circle cx="611.4" cy="41.8" r="1.25" fill="#e69f00" fill-opacity="1"/>
<circle cx="612.4" cy="43.9" r="1.25" fill="#e69f00" fill-opacity="1"/>
<circle cx="601.8" cy="49.9" r="1.25" fill="#e69f00" fill-opacity="1"/>
<circle cx="604.4" cy="49.5" r="1.25" fill="#e69f00" fill-opacity="1"/>
<circle cx="611.1" cy="51" r="1.25" fill="#e69f00" fill-opacity="1"/>
<circle cx="609.4" cy="54.1" r="1.25" fill="#e69f00" fill-opacity="1"/>
<circle cx="603.8" cy="56" r="1.25" fill="#e69f00" fill-opacity="1"/>
<circle cx="606.2" cy="57.2" r="1.25" fill="#e69f00" fill-opacity="1"/>
<circle cx="617.6" cy="57.4" r="1.25" fill="#e69f00" fill-opacity="1"/>
<circle cx="611.7" cy="56.9" r="1.25" fill="#e69f00" fill-opacity="1"/>
<circle cx="603.4" cy="61.2" r="1.25" fill="#e69f00" fill-opacity="1"/>
<circle cx="606.7" cy="61.7" r="1.25" fill="#e69f00" fill-opacity="1"/>
<circle cx="608.5" cy="62.9" r="1.25" fill="#e69f00" fill-opacity="1"/>
<circle cx="610.1" cy="63.6" r="1.25" fill="#e69f00" fill-opacity="1"/>
<circle cx="606.2" cy="65.7" r="1.25" fill="#e69f00" fill-opacity="1"/>
<circle cx="610.1" cy="66.3" r="1.25" fill="#e69f00" fill-opacity="1"/>
<circle cx="612.5" cy="66.3" r="1.25" fill="#e69f00" fill-opacity="1"/>
<circle cx="609.5" cy="70.4" r="1.25" fill="#e69f00" fill-opacity="1"/>
<circle cx="607.6" cy="72.7" r="1.25" fill="#e69f00" fill-opacity="1"/>
<circle cx="609.5" cy="74.8" r="1.25" fill="#e69f00" fill-opacity="1"/>
<circle cx="606.4" cy="81.5" r="1.25" fill="#e69f00" fill-opacity="1"/>
<circle cx="612.6" cy="79" r="1.25" fill="#e69f00" fill-opacity="1"/>
<circle cx="614.7" cy="80" r="1.25" fill="#e69f00" fill-opacity="1"/>
<circle cx="613.9" cy="77.6" r="1.25" fill="#e69f00" fill-opacity="1"/>
<circle cx="616.7" cy="78.6" r="1.25" fill="#e69f00" fill-opacity="1"/>
<circle cx="615.3" cy="82.6" r="1.25" fill="#e69f00" fill-opacity="1"/>
<circle cx="612.1" cy="84.2" r="1.25" fill="#e69f00" fill-opacity="1"/>
<circle cx="609.3" cy="90.2" r="1.25" fill="#e69f00" fill-opacity="1"/>
<circle cx="609.8" cy="94.8" r="1.25" fill="#e69f00" fill-opacity="1"/>
<circle cx="604.2" cy="95.5" r="1.25" fill="#e69f00" fill-opacity="1"/>
<circle cx="605.8" cy="95" r="1.25" fill="#e69f00" fill-opacity="1"/>
<circle cx="606.5" cy="96.2" r="1.25" fill="#e69f00" fill-opacity="1"/>
<circle cx="614.5" cy="94.3" r="1.25" fill="#e69f00" fill-opacity="1"/>
<circle cx="615.8" cy="93.8" r="1.25" fill="#e69f00" fill-opacity="1"/>
<circle cx="616.9" cy="95.6" r="1.25" fill="#e69f00" fill-opacity="1"/>
<circle cx="614.6" cy="97.7" r="1.25" fill="#e69f00" fill-opacity="1"/>
<circle cx="603.6" cy="102" r="1.25" fill="#e69f00" fill-opacity="1"/>
<circle cx="605.6" cy="102.7" r="1.25" fill="#e69f00" fill-opacity="1"/>
<circle cx="610.5" cy="101.8" r="1.25" fill="#e69f00" fill-opacity="1"/>
<circle cx="610.2" cy="104.2" r="1.25" fill="#e69f00" fill-opacity="1"/>
<circle cx="616.9" cy="103.8" r="1.25" fill="#e69f00" fill-opacity="1"/>
<circle cx="606.4" cy="106.3" r="1.25" fill="#e69f00" fill-opacity="1"/>
<circle cx="616.8" cy="106.3" r="1.25" fill="#e69f00" fill-opacity="1"/>
<circle cx="606.8" cy="108.7" r="1.25" fill="#e69f00" fill-opacity="1"/>
<circle cx="615.5" cy="111.3" r="1.25" fill="#e69f00" fill-opacity="1"/>
<circle cx="615.2" cy="112.8" r="1.25" fill="#e69f00" fill-opacity="1"/>
<circle cx="609.5" cy="113.8" r="1.25" fill="#e69f00" fill-opacity="1"/>
<circle cx="610" cy="115.2" r="1.25" fill="#e69f00" fill-opacity="1"/>
<circle cx="608.9" cy="114.5" r="1.25" fill="#e69f00" fill-opacity="1"/>
<circle cx="611.8" cy="113.3" r="1.25" fill="#e69f00" fill-opacity="1"/>
<circle cx="617.3" cy="117.9" r="1.25" fill="#e69f00" fill-opacity="1"/>
<circle cx="615.6" cy="121" r="1.25" fill="#e69f00" fill-opacity="1"/>
<circle cx="614" cy="123.6" r="1.25" fill="#e69f00" fill-opacity="1"/>
<circle cx="618.3" cy="123.6" r="1.25" fill="#e69f00" fill-opacity="1"/>
<circle cx="610.5" cy="122.5" r="1.25" fill="#e69f00" fill-opacity="1"/>
<circle cx="608" cy="86" r="1.25" fill="#e69f00" fill-opacity="1"/>
<circle cx="612" cy="88" r="1.25" fill="#e69f00" fill-opacity="1"/>
<circle cx="604" cy="84" r="1.25" fill="#e69f00" fill-opacity="1"/>
<circle cx="617" cy="70" r="1.25" fill="#e69f00" fill-opacity="1"/>
<line x1="651.35" y1="49.8" x2="651.35" y2="85.8" stroke="#56b4e9" stroke-width="1.4"/>
<line x1="651.35" y1="111.8" x2="651.35" y2="121.4" stroke="#56b4e9" stroke-width="1.4"/>
<rect x="636.5" y="85.8" width="29.7" height="26" fill="white" fill-opacity="0" stroke="#56b4e9" stroke-width="1.4"/>
<line x1="636.5" y1="96.6" x2="666.2" y2="96.6" stroke="#56b4e9" stroke-width="2.3"/>
<circle cx="647.5" cy="28.7" r="1.25" fill="#56b4e9" fill-opacity="1"/>
<circle cx="651.7" cy="34" r="1.25" fill="#56b4e9" fill-opacity="1"/>
<circle cx="649" cy="50.4" r="1.25" fill="#56b4e9" fill-opacity="1"/>
<circle cx="657.6" cy="49.6" r="1.25" fill="#56b4e9" fill-opacity="1"/>
<circle cx="652.7" cy="56.2" r="1.25" fill="#56b4e9" fill-opacity="1"/>
<circle cx="659.3" cy="63.5" r="1.25" fill="#56b4e9" fill-opacity="1"/>
<circle cx="650" cy="71.5" r="1.25" fill="#56b4e9" fill-opacity="1"/>
<circle cx="645.8" cy="76.7" r="1.25" fill="#56b4e9" fill-opacity="1"/>
<circle cx="646" cy="76.5" r="1.25" fill="#56b4e9" fill-opacity="1"/>
<circle cx="649.5" cy="81.5" r="1.25" fill="#56b4e9" fill-opacity="1"/>
<circle cx="653.6" cy="84.4" r="1.25" fill="#56b4e9" fill-opacity="1"/>
<circle cx="646.6" cy="89.6" r="1.25" fill="#56b4e9" fill-opacity="1"/>
<circle cx="659.4" cy="91.6" r="1.25" fill="#56b4e9" fill-opacity="1"/>
<circle cx="644.5" cy="94.3" r="1.25" fill="#56b4e9" fill-opacity="1"/>
<circle cx="646.2" cy="94.6" r="1.25" fill="#56b4e9" fill-opacity="1"/>
<circle cx="647.6" cy="94" r="1.25" fill="#56b4e9" fill-opacity="1"/>
<circle cx="650" cy="94.2" r="1.25" fill="#56b4e9" fill-opacity="1"/>
<circle cx="654.5" cy="93.7" r="1.25" fill="#56b4e9" fill-opacity="1"/>
<circle cx="646.9" cy="105" r="1.25" fill="#56b4e9" fill-opacity="1"/>
<circle cx="655.4" cy="105.6" r="1.25" fill="#56b4e9" fill-opacity="1"/>
<circle cx="652.9" cy="107.6" r="1.25" fill="#56b4e9" fill-opacity="1"/>
<circle cx="648.3" cy="111" r="1.25" fill="#56b4e9" fill-opacity="1"/>
<circle cx="649.9" cy="111.6" r="1.25" fill="#56b4e9" fill-opacity="1"/>
<circle cx="651.1" cy="110.8" r="1.25" fill="#56b4e9" fill-opacity="1"/>
<circle cx="653.9" cy="111.4" r="1.25" fill="#56b4e9" fill-opacity="1"/>
<circle cx="658.7" cy="112.7" r="1.25" fill="#56b4e9" fill-opacity="1"/>
<circle cx="646.9" cy="115.8" r="1.25" fill="#56b4e9" fill-opacity="1"/>
<circle cx="649.6" cy="115" r="1.25" fill="#56b4e9" fill-opacity="1"/>
<circle cx="650.9" cy="117.4" r="1.25" fill="#56b4e9" fill-opacity="1"/>
<circle cx="654.2" cy="116.2" r="1.25" fill="#56b4e9" fill-opacity="1"/>
<circle cx="646.6" cy="121.8" r="1.25" fill="#56b4e9" fill-opacity="1"/>
<path d="M610.1,26.4 V23.5 H651.7 V26.4" fill="none" stroke="#222" stroke-width="0.9"/>
<text x="628.6" y="30.9" font-size="6.5" fill="#222" text-anchor="middle" font-family="Liberation Sans, sans-serif" stroke="#222" stroke-width="0.28" stroke-linejoin="round">0.022</text>
<line x1="579.3" y1="18.6" x2="579.3" y2="128.2" stroke="#111" stroke-width="1.3"/>
<line x1="578.7" y1="127.6" x2="678" y2="127.6" stroke="#111" stroke-width="1.3"/>
<text transform="translate(553.2,73.2) rotate(-90)" font-size="9.1" fill="#111" text-anchor="middle" font-family="Liberation Sans, sans-serif" stroke="#111" stroke-width="0.12" stroke-linejoin="round">SBS17a exposure (%)</text>
<text x="578.1" y="144.9" font-size="6.8" font-weight="bold" fill="#111" font-family="Liberation Sans, sans-serif" stroke="#111" stroke-width="0.28" stroke-linejoin="round">Smoking status</text>
<line x1="638.9" y1="131.7" x2="638.9" y2="142.1" stroke="#e69f00" stroke-width="1.3"/><rect x="633.8" y="133.3" width="10.2" height="7" fill="none" stroke="#e69f00" stroke-width="1.5"/><line x1="633.6" y1="136.8" x2="644.2" y2="136.8" stroke="#e69f00" stroke-width="1.7"/><circle cx="638.9" cy="136.8" r="1.4" fill="#e69f00"/>
<line x1="638.9" y1="145.9" x2="638.9" y2="156.3" stroke="#56b4e9" stroke-width="1.3"/><rect x="633.8" y="147.5" width="10.2" height="7" fill="none" stroke="#56b4e9" stroke-width="1.5"/><line x1="633.6" y1="151" x2="644.2" y2="151" stroke="#56b4e9" stroke-width="1.7"/><circle cx="638.9" cy="151" r="1.4" fill="#56b4e9"/>
<text x="647.1" y="139.3" font-size="6.7" fill="#1a1a1a" font-family="Liberation Sans, sans-serif" stroke="#1a1a1a" stroke-width="0.28" stroke-linejoin="round">Present/past</text>
<text x="647.1" y="153.6" font-size="6.7" fill="#1a1a1a" font-family="Liberation Sans, sans-serif" stroke="#1a1a1a" stroke-width="0.28" stroke-linejoin="round">Never</text>
<text x="392.4" y="163.2" font-size="10" font-weight="bold" fill="#000" font-family="Liberation Sans, sans-serif" stroke="#000" stroke-width="0.28" stroke-linejoin="round">c</text>
<text x="518.1" y="165.3" font-size="6.8" font-weight="bold" fill="#111" text-anchor="end" font-family="Liberation Sans, sans-serif" stroke="#111" stroke-width="0.28" stroke-linejoin="round">Treatment-naive:</text>
<text x="516.4" y="174.9" font-size="6.8" font-weight="bold" fill="#111" text-anchor="end" font-family="Liberation Sans, sans-serif" stroke="#111" stroke-width="0.28" stroke-linejoin="round">Post-treatment:</text>
<line x1="527.1" y1="157.8" x2="527.1" y2="167.6" stroke="#a09030" stroke-width="1.3"/><rect x="522.6" y="159.4" width="9" height="6.4" fill="none" stroke="#a09030" stroke-width="1.5"/><line x1="522.4" y1="162.6" x2="531.8" y2="162.6" stroke="#a09030" stroke-width="1.7"/><circle cx="527.1" cy="162.6" r="1.4" fill="#a09030"/>
<text x="536.1" y="164.9" font-size="6.8" fill="#1a1a1a" font-family="Liberation Sans, sans-serif" stroke="#1a1a1a" stroke-width="0.28" stroke-linejoin="round">shrink</text>
<line x1="561.9" y1="157.8" x2="561.9" y2="167.6" stroke="#f4c9ae" stroke-width="1.3"/><rect x="557.4" y="159.4" width="9" height="6.4" fill="none" stroke="#f4c9ae" stroke-width="1.5"/><line x1="557.2" y1="162.6" x2="566.6" y2="162.6" stroke="#f4c9ae" stroke-width="1.7"/><circle cx="561.9" cy="162.6" r="1.4" fill="#f4c9ae"/>
<text x="569.1" y="164.9" font-size="6.8" fill="#1a1a1a" font-family="Liberation Sans, sans-serif" stroke="#1a1a1a" stroke-width="0.28" stroke-linejoin="round">no change</text>
<line x1="607.8" y1="157.8" x2="607.8" y2="167.6" stroke="#f3acab" stroke-width="1.3"/><rect x="603.3" y="159.4" width="9" height="6.4" fill="none" stroke="#f3acab" stroke-width="1.5"/><line x1="603.1" y1="162.6" x2="612.5" y2="162.6" stroke="#f3acab" stroke-width="1.7"/><circle cx="607.8" cy="162.6" r="1.4" fill="#f3acab"/>
<text x="614.8" y="164.9" font-size="6.8" fill="#1a1a1a" font-family="Liberation Sans, sans-serif" stroke="#1a1a1a" stroke-width="0.28" stroke-linejoin="round">grow</text>
<line x1="527.1" y1="167.8" x2="527.1" y2="177.6" stroke="#7b6a15" stroke-width="1.3"/><rect x="522.6" y="169.4" width="9" height="6.4" fill="none" stroke="#7b6a15" stroke-width="1.5"/><line x1="522.4" y1="172.6" x2="531.8" y2="172.6" stroke="#7b6a15" stroke-width="1.7"/><circle cx="527.1" cy="172.6" r="1.4" fill="#7b6a15"/>
<text x="536.1" y="175.2" font-size="6.8" fill="#1a1a1a" font-family="Liberation Sans, sans-serif" stroke="#1a1a1a" stroke-width="0.28" stroke-linejoin="round">shrink</text>
<line x1="561.9" y1="167.8" x2="561.9" y2="177.6" stroke="#c99b80" stroke-width="1.3"/><rect x="557.4" y="169.4" width="9" height="6.4" fill="none" stroke="#c99b80" stroke-width="1.5"/><line x1="557.2" y1="172.6" x2="566.6" y2="172.6" stroke="#c99b80" stroke-width="1.7"/><circle cx="561.9" cy="172.6" r="1.4" fill="#c99b80"/>
<text x="569.1" y="175.2" font-size="6.8" fill="#1a1a1a" font-family="Liberation Sans, sans-serif" stroke="#1a1a1a" stroke-width="0.28" stroke-linejoin="round">no change</text>
<line x1="607.8" y1="167.8" x2="607.8" y2="177.6" stroke="#c9797a" stroke-width="1.3"/><rect x="603.3" y="169.4" width="9" height="6.4" fill="none" stroke="#c9797a" stroke-width="1.5"/><line x1="603.1" y1="172.6" x2="612.5" y2="172.6" stroke="#c9797a" stroke-width="1.7"/><circle cx="607.8" cy="172.6" r="1.4" fill="#c9797a"/>
<text x="614.8" y="175.2" font-size="6.8" fill="#1a1a1a" font-family="Liberation Sans, sans-serif" stroke="#1a1a1a" stroke-width="0.28" stroke-linejoin="round">grow</text>
<line x1="419.8" y1="193.8" x2="421.9" y2="193.8" stroke="#222" stroke-width="1"/>
<text x="419.2" y="196.3" font-size="6.9" fill="#3a3a3a" text-anchor="end" font-family="Liberation Sans, sans-serif" stroke="#3a3a3a" stroke-width="0.28" stroke-linejoin="round">80%</text>
<line x1="419.8" y1="229.6" x2="421.9" y2="229.6" stroke="#222" stroke-width="1"/>
<text x="419.2" y="232.1" font-size="6.9" fill="#3a3a3a" text-anchor="end" font-family="Liberation Sans, sans-serif" stroke="#3a3a3a" stroke-width="0.28" stroke-linejoin="round">60%</text>
<line x1="419.8" y1="265.4" x2="421.9" y2="265.4" stroke="#222" stroke-width="1"/>
<text x="419.2" y="267.9" font-size="6.9" fill="#3a3a3a" text-anchor="end" font-family="Liberation Sans, sans-serif" stroke="#3a3a3a" stroke-width="0.28" stroke-linejoin="round">40%</text>
<line x1="419.8" y1="301.2" x2="421.9" y2="301.2" stroke="#222" stroke-width="1"/>
<text x="419.2" y="303.7" font-size="6.9" fill="#3a3a3a" text-anchor="end" font-family="Liberation Sans, sans-serif" stroke="#3a3a3a" stroke-width="0.28" stroke-linejoin="round">20%</text>
<text transform="translate(402.4,252.6) rotate(-90)" font-size="9.1" fill="#111" text-anchor="middle" font-family="Liberation Sans, sans-serif" stroke="#111" stroke-width="0.12" stroke-linejoin="round">SBS17b exposure (%)</text>
<line x1="453.45" y1="254.8" x2="453.45" y2="282.5" stroke="#a09030" stroke-width="1.35"/>
<line x1="453.45" y1="314" x2="453.45" y2="325.5" stroke="#a09030" stroke-width="1.35"/>
<rect x="439.5" y="282.5" width="27.9" height="31.5" fill="white" fill-opacity="0" stroke="#a09030" stroke-width="1.35"/>
<line x1="439.5" y1="300.7" x2="467.4" y2="300.7" stroke="#a09030" stroke-width="2.2"/>
<line x1="485.35" y1="235.5" x2="485.35" y2="282" stroke="#7b6a15" stroke-width="1.35"/>
<line x1="485.35" y1="320" x2="485.35" y2="327.5" stroke="#7b6a15" stroke-width="1.35"/>
<rect x="470.9" y="282" width="28.9" height="38" fill="white" fill-opacity="0" stroke="#7b6a15" stroke-width="1.35"/>
<line x1="470.9" y1="303.4" x2="499.8" y2="303.4" stroke="#7b6a15" stroke-width="2.2"/>
<line x1="533.2" y1="254.8" x2="533.2" y2="291.4" stroke="#f4c9ae" stroke-width="1.35"/>
<line x1="533.2" y1="318.3" x2="533.2" y2="327.5" stroke="#f4c9ae" stroke-width="1.35"/>
<rect x="519.2" y="291.4" width="28" height="26.9" fill="white" fill-opacity="0" stroke="#f4c9ae" stroke-width="1.35"/>
<line x1="519.2" y1="302.6" x2="547.2" y2="302.6" stroke="#f4c9ae" stroke-width="2.2"/>
<line x1="565.4" y1="247.2" x2="565.4" y2="287.3" stroke="#c99b80" stroke-width="1.35"/>
<line x1="565.4" y1="316.8" x2="565.4" y2="328.5" stroke="#c99b80" stroke-width="1.35"/>
<rect x="551" y="287.3" width="28.8" height="29.5" fill="white" fill-opacity="0" stroke="#c99b80" stroke-width="1.35"/>
<line x1="551" y1="301.8" x2="579.8" y2="301.8" stroke="#c99b80" stroke-width="2.2"/>
<line x1="612.7" y1="257.8" x2="612.7" y2="287.5" stroke="#f3acab" stroke-width="1.35"/>
<line x1="612.7" y1="308.1" x2="612.7" y2="320" stroke="#f3acab" stroke-width="1.35"/>
<rect x="598.2" y="287.5" width="29" height="20.6" fill="white" fill-opacity="0" stroke="#f3acab" stroke-width="1.35"/>
<line x1="598.2" y1="294.8" x2="627.2" y2="294.8" stroke="#f3acab" stroke-width="2.2"/>
<line x1="644.8" y1="253.7" x2="644.8" y2="279" stroke="#c9797a" stroke-width="1.35"/>
<line x1="644.8" y1="311.2" x2="644.8" y2="324.8" stroke="#c9797a" stroke-width="1.35"/>
<rect x="630.4" y="279" width="28.8" height="32.2" fill="white" fill-opacity="0" stroke="#c9797a" stroke-width="1.35"/>
<line x1="630.4" y1="293.2" x2="659.2" y2="293.2" stroke="#c9797a" stroke-width="2.2"/>
<circle cx="457.41" cy="315.75" r="1.5" fill="#a09030" fill-opacity="1"/>
<circle cx="452.69" cy="307.41" r="1.5" fill="#a09030" fill-opacity="1"/>
<circle cx="447.36" cy="286.35" r="1.5" fill="#a09030" fill-opacity="1"/>
<circle cx="452.44" cy="315.89" r="1.5" fill="#a09030" fill-opacity="1"/>
<circle cx="452.63" cy="282.5" r="1.5" fill="#a09030" fill-opacity="1"/>
<circle cx="460.13" cy="296.54" r="1.5" fill="#a09030" fill-opacity="1"/>
<circle cx="446.33" cy="282.4" r="1.5" fill="#a09030" fill-opacity="1"/>
<circle cx="451.67" cy="283.61" r="1.5" fill="#a09030" fill-opacity="1"/>
<circle cx="446.39" cy="320.65" r="1.5" fill="#a09030" fill-opacity="1"/>
<circle cx="453.39" cy="320.46" r="1.5" fill="#a09030" fill-opacity="1"/>
<circle cx="449.23" cy="322.85" r="1.5" fill="#a09030" fill-opacity="1"/>
<circle cx="446.27" cy="310.15" r="1.5" fill="#a09030" fill-opacity="1"/>
<circle cx="455.58" cy="271.66" r="1.5" fill="#a09030" fill-opacity="1"/>
<circle cx="458.85" cy="314.09" r="1.5" fill="#a09030" fill-opacity="1"/>
<circle cx="456.77" cy="321.67" r="1.5" fill="#a09030" fill-opacity="1"/>
<circle cx="452.28" cy="283.66" r="1.5" fill="#a09030" fill-opacity="1"/>
<circle cx="450.5" cy="267.89" r="1.5" fill="#a09030" fill-opacity="1"/>
<circle cx="458.64" cy="284.64" r="1.5" fill="#a09030" fill-opacity="1"/>
<circle cx="446.47" cy="289.98" r="1.5" fill="#a09030" fill-opacity="1"/>
<circle cx="452.16" cy="316.33" r="1.5" fill="#a09030" fill-opacity="1"/>
<circle cx="456.5" cy="319.19" r="1.5" fill="#a09030" fill-opacity="1"/>
<circle cx="452.53" cy="293.88" r="1.5" fill="#a09030" fill-opacity="1"/>
<circle cx="453.76" cy="286.53" r="1.5" fill="#a09030" fill-opacity="1"/>
<circle cx="446.39" cy="307.49" r="1.5" fill="#a09030" fill-opacity="1"/>
<circle cx="460.7" cy="317.41" r="1.5" fill="#a09030" fill-opacity="1"/>
<circle cx="448.51" cy="293.54" r="1.5" fill="#a09030" fill-opacity="1"/>
<circle cx="457.51" cy="282.83" r="1.5" fill="#a09030" fill-opacity="1"/>
<circle cx="449.43" cy="285.04" r="1.5" fill="#a09030" fill-opacity="1"/>
<circle cx="454.62" cy="283.37" r="1.5" fill="#a09030" fill-opacity="1"/>
<circle cx="454.17" cy="310.42" r="1.5" fill="#a09030" fill-opacity="1"/>
<circle cx="457.7" cy="282.49" r="1.5" fill="#a09030" fill-opacity="1"/>
<circle cx="457.06" cy="259.67" r="1.5" fill="#a09030" fill-opacity="1"/>
<circle cx="454.37" cy="272.81" r="1.5" fill="#a09030" fill-opacity="1"/>
<circle cx="459" cy="313.25" r="1.5" fill="#a09030" fill-opacity="1"/>
<circle cx="453.52" cy="297.06" r="1.5" fill="#a09030" fill-opacity="1"/>
<circle cx="451.14" cy="309.25" r="1.5" fill="#a09030" fill-opacity="1"/>
<circle cx="455.14" cy="289.35" r="1.5" fill="#a09030" fill-opacity="1"/>
<circle cx="449.39" cy="313.63" r="1.5" fill="#a09030" fill-opacity="1"/>
<circle cx="458.87" cy="318.78" r="1.5" fill="#a09030" fill-opacity="1"/>
<circle cx="458.2" cy="263.23" r="1.5" fill="#a09030" fill-opacity="1"/>
<circle cx="456.05" cy="302.8" r="1.5" fill="#a09030" fill-opacity="1"/>
<circle cx="446.17" cy="325.31" r="1.5" fill="#a09030" fill-opacity="1"/>
<circle cx="447.59" cy="279.49" r="1.5" fill="#a09030" fill-opacity="1"/>
<circle cx="446.99" cy="294.43" r="1.5" fill="#a09030" fill-opacity="1"/>
<circle cx="448.47" cy="319.44" r="1.5" fill="#a09030" fill-opacity="1"/>
<circle cx="445.5" cy="219" r="1.5" fill="#a09030" fill-opacity="1"/>
<circle cx="478.7" cy="239.78" r="1.2" fill="#7b6a15" fill-opacity="1"/>
<circle cx="488.89" cy="321.23" r="1.2" fill="#7b6a15" fill-opacity="1"/>
<circle cx="486.94" cy="296.81" r="1.2" fill="#7b6a15" fill-opacity="1"/>
<circle cx="480.23" cy="290.96" r="1.2" fill="#7b6a15" fill-opacity="1"/>
<circle cx="488.7" cy="313.47" r="1.2" fill="#7b6a15" fill-opacity="1"/>
<circle cx="486.01" cy="239.65" r="1.2" fill="#7b6a15" fill-opacity="1"/>
<circle cx="478.39" cy="315.55" r="1.2" fill="#7b6a15" fill-opacity="1"/>
<circle cx="482.63" cy="324.01" r="1.2" fill="#7b6a15" fill-opacity="1"/>
<circle cx="485.74" cy="305.2" r="1.2" fill="#7b6a15" fill-opacity="1"/>
<circle cx="478.21" cy="298.35" r="1.2" fill="#7b6a15" fill-opacity="1"/>
<circle cx="485.5" cy="317.73" r="1.2" fill="#7b6a15" fill-opacity="1"/>
<circle cx="480.58" cy="259.11" r="1.2" fill="#7b6a15" fill-opacity="1"/>
<circle cx="488.87" cy="251.11" r="1.2" fill="#7b6a15" fill-opacity="1"/>
<circle cx="489.7" cy="253.43" r="1.2" fill="#7b6a15" fill-opacity="1"/>
<circle cx="492.28" cy="303.72" r="1.2" fill="#7b6a15" fill-opacity="1"/>
<circle cx="488.58" cy="321.84" r="1.2" fill="#7b6a15" fill-opacity="1"/>
<circle cx="485.2" cy="311.2" r="1.2" fill="#7b6a15" fill-opacity="1"/>
<circle cx="490.32" cy="268.61" r="1.2" fill="#7b6a15" fill-opacity="1"/>
<circle cx="491.35" cy="305.34" r="1.2" fill="#7b6a15" fill-opacity="1"/>
<circle cx="491.65" cy="310.58" r="1.2" fill="#7b6a15" fill-opacity="1"/>
<circle cx="481.18" cy="292.99" r="1.2" fill="#7b6a15" fill-opacity="1"/>
<circle cx="480.34" cy="308.39" r="1.2" fill="#7b6a15" fill-opacity="1"/>
<circle cx="491.52" cy="277.65" r="1.2" fill="#7b6a15" fill-opacity="1"/>
<circle cx="488.44" cy="304.11" r="1.2" fill="#7b6a15" fill-opacity="1"/>
<circle cx="487.62" cy="292.32" r="1.2" fill="#7b6a15" fill-opacity="1"/>
<circle cx="480.97" cy="296.73" r="1.2" fill="#7b6a15" fill-opacity="1"/>
<circle cx="487.2" cy="283.41" r="1.2" fill="#7b6a15" fill-opacity="1"/>
<circle cx="488.74" cy="321.35" r="1.2" fill="#7b6a15" fill-opacity="1"/>
<circle cx="489.02" cy="279.63" r="1.2" fill="#7b6a15" fill-opacity="1"/>
<circle cx="481.95" cy="322.6" r="1.2" fill="#7b6a15" fill-opacity="1"/>
<circle cx="479.44" cy="320.93" r="1.2" fill="#7b6a15" fill-opacity="1"/>
<circle cx="481.52" cy="285.13" r="1.2" fill="#7b6a15" fill-opacity="1"/>
<circle cx="484.19" cy="320.9" r="1.2" fill="#7b6a15" fill-opacity="1"/>
<circle cx="483.29" cy="302.72" r="1.2" fill="#7b6a15" fill-opacity="1"/>
<circle cx="479.09" cy="322.45" r="1.2" fill="#7b6a15" fill-opacity="1"/>
<circle cx="488.79" cy="281.94" r="1.2" fill="#7b6a15" fill-opacity="1"/>
<circle cx="490.05" cy="325.58" r="1.2" fill="#7b6a15" fill-opacity="1"/>
<circle cx="488.22" cy="326.12" r="1.2" fill="#7b6a15" fill-opacity="1"/>
<circle cx="492.7" cy="319.28" r="1.2" fill="#7b6a15" fill-opacity="1"/>
<circle cx="483.01" cy="327.23" r="1.2" fill="#7b6a15" fill-opacity="1"/>
<circle cx="479.55" cy="287.51" r="1.2" fill="#7b6a15" fill-opacity="1"/>
<circle cx="484.58" cy="319.49" r="1.2" fill="#7b6a15" fill-opacity="1"/>
<circle cx="491.38" cy="254.96" r="1.2" fill="#7b6a15" fill-opacity="1"/>
<circle cx="488.43" cy="246.37" r="1.2" fill="#7b6a15" fill-opacity="1"/>
<circle cx="487.76" cy="316.26" r="1.2" fill="#7b6a15" fill-opacity="1"/>
<circle cx="484.57" cy="318.31" r="1.2" fill="#7b6a15" fill-opacity="1"/>
<circle cx="486.62" cy="280.86" r="1.2" fill="#7b6a15" fill-opacity="1"/>
<circle cx="480.01" cy="311.45" r="1.2" fill="#7b6a15" fill-opacity="1"/>
<circle cx="486.94" cy="277.91" r="1.2" fill="#7b6a15" fill-opacity="1"/>
<circle cx="486.22" cy="319.7" r="1.2" fill="#7b6a15" fill-opacity="1"/>
<circle cx="478.35" cy="327.07" r="1.2" fill="#7b6a15" fill-opacity="1"/>
<circle cx="487.38" cy="326.78" r="1.2" fill="#7b6a15" fill-opacity="1"/>
<circle cx="491.86" cy="282.35" r="1.2" fill="#7b6a15" fill-opacity="1"/>
<circle cx="484.52" cy="278.64" r="1.2" fill="#7b6a15" fill-opacity="1"/>
<circle cx="487.21" cy="310.19" r="1.2" fill="#7b6a15" fill-opacity="1"/>
<circle cx="481.7" cy="256.93" r="1.2" fill="#7b6a15" fill-opacity="1"/>
<circle cx="477.92" cy="311.27" r="1.2" fill="#7b6a15" fill-opacity="1"/>
<circle cx="479.52" cy="324.43" r="1.2" fill="#7b6a15" fill-opacity="1"/>
<circle cx="479.35" cy="298.25" r="1.2" fill="#7b6a15" fill-opacity="1"/>
<circle cx="481.11" cy="325.76" r="1.2" fill="#7b6a15" fill-opacity="1"/>
<circle cx="482.5" cy="293.46" r="1.2" fill="#7b6a15" fill-opacity="1"/>
<circle cx="491.45" cy="298.85" r="1.2" fill="#7b6a15" fill-opacity="1"/>
<circle cx="484.36" cy="255.68" r="1.2" fill="#7b6a15" fill-opacity="1"/>
<circle cx="478.62" cy="290.96" r="1.2" fill="#7b6a15" fill-opacity="1"/>
<circle cx="480.57" cy="311.28" r="1.2" fill="#7b6a15" fill-opacity="1"/>
<circle cx="483.34" cy="321.48" r="1.2" fill="#7b6a15" fill-opacity="1"/>
<circle cx="487.01" cy="283.68" r="1.2" fill="#7b6a15" fill-opacity="1"/>
<circle cx="483.43" cy="303.67" r="1.2" fill="#7b6a15" fill-opacity="1"/>
<circle cx="479.37" cy="322.36" r="1.2" fill="#7b6a15" fill-opacity="1"/>
<circle cx="487.94" cy="306.05" r="1.2" fill="#7b6a15" fill-opacity="1"/>
<circle cx="484.01" cy="324.11" r="1.2" fill="#7b6a15" fill-opacity="1"/>
<circle cx="486.68" cy="316.54" r="1.2" fill="#7b6a15" fill-opacity="1"/>
<circle cx="483.44" cy="325.37" r="1.2" fill="#7b6a15" fill-opacity="1"/>
<circle cx="489.17" cy="281.54" r="1.2" fill="#7b6a15" fill-opacity="1"/>
<circle cx="483.73" cy="323.21" r="1.2" fill="#7b6a15" fill-opacity="1"/>
<circle cx="483.78" cy="307.49" r="1.2" fill="#7b6a15" fill-opacity="1"/>
<circle cx="479.06" cy="326.59" r="1.2" fill="#7b6a15" fill-opacity="1"/>
<circle cx="492.25" cy="261.12" r="1.2" fill="#7b6a15" fill-opacity="1"/>
<circle cx="487.74" cy="302.87" r="1.2" fill="#7b6a15" fill-opacity="1"/>
<circle cx="485.32" cy="256.03" r="1.2" fill="#7b6a15" fill-opacity="1"/>
<circle cx="489.83" cy="312.41" r="1.2" fill="#7b6a15" fill-opacity="1"/>
<circle cx="485.01" cy="311.26" r="1.2" fill="#7b6a15" fill-opacity="1"/>
<circle cx="491.83" cy="250.58" r="1.2" fill="#7b6a15" fill-opacity="1"/>
<circle cx="481.32" cy="276.78" r="1.2" fill="#7b6a15" fill-opacity="1"/>
<circle cx="484.26" cy="315.69" r="1.2" fill="#7b6a15" fill-opacity="1"/>
<circle cx="486.64" cy="283.74" r="1.2" fill="#7b6a15" fill-opacity="1"/>
<circle cx="483.19" cy="281.32" r="1.2" fill="#7b6a15" fill-opacity="1"/>
<circle cx="484.1" cy="280.53" r="1.2" fill="#7b6a15" fill-opacity="1"/>
<circle cx="491.28" cy="326.85" r="1.2" fill="#7b6a15" fill-opacity="1"/>
<circle cx="479.78" cy="260.7" r="1.2" fill="#7b6a15" fill-opacity="1"/>
<circle cx="487.91" cy="316.15" r="1.2" fill="#7b6a15" fill-opacity="1"/>
<circle cx="485.71" cy="294.01" r="1.2" fill="#7b6a15" fill-opacity="1"/>
<circle cx="492.1" cy="323.44" r="1.2" fill="#7b6a15" fill-opacity="1"/>
<circle cx="485.6" cy="281.31" r="1.2" fill="#7b6a15" fill-opacity="1"/>
<circle cx="491.27" cy="297.89" r="1.2" fill="#7b6a15" fill-opacity="1"/>
<circle cx="531.25" cy="322.49" r="1.15" fill="#f4c9ae" fill-opacity="1"/>
<circle cx="526.68" cy="295.59" r="1.15" fill="#f4c9ae" fill-opacity="1"/>
<circle cx="529.59" cy="319.8" r="1.15" fill="#f4c9ae" fill-opacity="1"/>
<circle cx="532.75" cy="318.34" r="1.15" fill="#f4c9ae" fill-opacity="1"/>
<circle cx="535.29" cy="281.77" r="1.15" fill="#f4c9ae" fill-opacity="1"/>
<circle cx="538.72" cy="321.66" r="1.15" fill="#f4c9ae" fill-opacity="1"/>
<circle cx="535.77" cy="294.3" r="1.15" fill="#f4c9ae" fill-opacity="1"/>
<circle cx="534.57" cy="320.52" r="1.15" fill="#f4c9ae" fill-opacity="1"/>
<circle cx="538.68" cy="317.81" r="1.15" fill="#f4c9ae" fill-opacity="1"/>
<circle cx="538.88" cy="307.01" r="1.15" fill="#f4c9ae" fill-opacity="1"/>
<circle cx="531.62" cy="292.28" r="1.15" fill="#f4c9ae" fill-opacity="1"/>
<circle cx="539.73" cy="282.89" r="1.15" fill="#f4c9ae" fill-opacity="1"/>
<circle cx="527.74" cy="290.85" r="1.15" fill="#f4c9ae" fill-opacity="1"/>
<circle cx="532.24" cy="318.62" r="1.15" fill="#f4c9ae" fill-opacity="1"/>
<circle cx="533.31" cy="299.23" r="1.15" fill="#f4c9ae" fill-opacity="1"/>
<circle cx="534.48" cy="312.79" r="1.15" fill="#f4c9ae" fill-opacity="1"/>
<circle cx="535.93" cy="292.47" r="1.15" fill="#f4c9ae" fill-opacity="1"/>
<circle cx="540.56" cy="263.71" r="1.15" fill="#f4c9ae" fill-opacity="1"/>
<circle cx="538.61" cy="300.77" r="1.15" fill="#f4c9ae" fill-opacity="1"/>
<circle cx="534.24" cy="260.84" r="1.15" fill="#f4c9ae" fill-opacity="1"/>
<circle cx="538.17" cy="300.24" r="1.15" fill="#f4c9ae" fill-opacity="1"/>
<circle cx="526.65" cy="299.41" r="1.15" fill="#f4c9ae" fill-opacity="1"/>
<circle cx="527.03" cy="255.47" r="1.15" fill="#f4c9ae" fill-opacity="1"/>
<circle cx="527.96" cy="284.03" r="1.15" fill="#f4c9ae" fill-opacity="1"/>
<circle cx="538.79" cy="306.23" r="1.15" fill="#f4c9ae" fill-opacity="1"/>
<circle cx="526.37" cy="321.85" r="1.15" fill="#f4c9ae" fill-opacity="1"/>
<circle cx="538.91" cy="298.89" r="1.15" fill="#f4c9ae" fill-opacity="1"/>
<circle cx="540.68" cy="280.68" r="1.15" fill="#f4c9ae" fill-opacity="1"/>
<circle cx="534.7" cy="317.09" r="1.15" fill="#f4c9ae" fill-opacity="1"/>
<circle cx="531.82" cy="325.68" r="1.15" fill="#f4c9ae" fill-opacity="1"/>
<circle cx="526.34" cy="300.85" r="1.15" fill="#f4c9ae" fill-opacity="1"/>
<circle cx="540.08" cy="286.86" r="1.15" fill="#f4c9ae" fill-opacity="1"/>
<circle cx="532.61" cy="285.05" r="1.15" fill="#f4c9ae" fill-opacity="1"/>
<circle cx="534.63" cy="295.39" r="1.15" fill="#f4c9ae" fill-opacity="1"/>
<circle cx="539.81" cy="295.65" r="1.15" fill="#f4c9ae" fill-opacity="1"/>
<circle cx="536.5" cy="297.77" r="1.15" fill="#f4c9ae" fill-opacity="1"/>
<circle cx="540.37" cy="324.73" r="1.15" fill="#f4c9ae" fill-opacity="1"/>
<circle cx="525.87" cy="296.46" r="1.15" fill="#f4c9ae" fill-opacity="1"/>
<circle cx="526" cy="309.19" r="1.15" fill="#f4c9ae" fill-opacity="1"/>
<circle cx="526.6" cy="295.52" r="1.15" fill="#f4c9ae" fill-opacity="1"/>
<circle cx="535.89" cy="297.38" r="1.15" fill="#f4c9ae" fill-opacity="1"/>
<circle cx="536.77" cy="307.2" r="1.15" fill="#f4c9ae" fill-opacity="1"/>
<circle cx="535.84" cy="326.94" r="1.15" fill="#f4c9ae" fill-opacity="1"/>
<circle cx="532.54" cy="288.36" r="1.15" fill="#f4c9ae" fill-opacity="1"/>
<circle cx="531.16" cy="299.02" r="1.15" fill="#f4c9ae" fill-opacity="1"/>
<circle cx="534.63" cy="312.5" r="1.15" fill="#f4c9ae" fill-opacity="1"/>
<circle cx="537.28" cy="312.38" r="1.15" fill="#f4c9ae" fill-opacity="1"/>
<circle cx="536.73" cy="322.26" r="1.15" fill="#f4c9ae" fill-opacity="1"/>
<circle cx="537.76" cy="314.81" r="1.15" fill="#f4c9ae" fill-opacity="1"/>
<circle cx="532.23" cy="325.78" r="1.15" fill="#f4c9ae" fill-opacity="1"/>
<circle cx="530.53" cy="301.46" r="1.15" fill="#f4c9ae" fill-opacity="1"/>
<circle cx="532.28" cy="305.21" r="1.15" fill="#f4c9ae" fill-opacity="1"/>
<circle cx="530.75" cy="289.9" r="1.15" fill="#f4c9ae" fill-opacity="1"/>
<circle cx="532.47" cy="292.69" r="1.15" fill="#f4c9ae" fill-opacity="1"/>
<circle cx="533.64" cy="326.39" r="1.15" fill="#f4c9ae" fill-opacity="1"/>
<circle cx="530.5" cy="238" r="1.15" fill="#f4c9ae" fill-opacity="1"/>
<circle cx="563.63" cy="327.29" r="1.6" fill="#c99b80" fill-opacity="1"/>
<circle cx="563.73" cy="327.72" r="1.6" fill="#c99b80" fill-opacity="1"/>
<circle cx="569.91" cy="264.82" r="1.6" fill="#c99b80" fill-opacity="1"/>
<circle cx="561.6" cy="322.22" r="1.6" fill="#c99b80" fill-opacity="1"/>
<circle cx="560.54" cy="327.26" r="1.6" fill="#c99b80" fill-opacity="1"/>
<circle cx="570.61" cy="262.68" r="1.6" fill="#c99b80" fill-opacity="1"/>
<circle cx="562.17" cy="286.74" r="1.6" fill="#c99b80" fill-opacity="1"/>
<circle cx="571.43" cy="291.19" r="1.6" fill="#c99b80" fill-opacity="1"/>
<circle cx="567.2" cy="287.23" r="1.6" fill="#c99b80" fill-opacity="1"/>
<circle cx="559.92" cy="294.46" r="1.6" fill="#c99b80" fill-opacity="1"/>
<circle cx="572.79" cy="315.46" r="1.6" fill="#c99b80" fill-opacity="1"/>
<circle cx="562" cy="278.92" r="1.6" fill="#c99b80" fill-opacity="1"/>
<circle cx="571.9" cy="277.9" r="1.6" fill="#c99b80" fill-opacity="1"/>
<circle cx="563.94" cy="280.39" r="1.6" fill="#c99b80" fill-opacity="1"/>
<circle cx="559.64" cy="295.55" r="1.6" fill="#c99b80" fill-opacity="1"/>
<circle cx="557.64" cy="304.61" r="1.6" fill="#c99b80" fill-opacity="1"/>
<circle cx="561.67" cy="321.17" r="1.6" fill="#c99b80" fill-opacity="1"/>
<circle cx="562.73" cy="294.97" r="1.6" fill="#c99b80" fill-opacity="1"/>
<circle cx="563.92" cy="286.72" r="1.6" fill="#c99b80" fill-opacity="1"/>
<circle cx="561.6" cy="321.1" r="1.6" fill="#c99b80" fill-opacity="1"/>
<circle cx="562.35" cy="305.6" r="1.6" fill="#c99b80" fill-opacity="1"/>
<circle cx="558.62" cy="288.69" r="1.6" fill="#c99b80" fill-opacity="1"/>
<circle cx="569.91" cy="325.82" r="1.6" fill="#c99b80" fill-opacity="1"/>
<circle cx="562.53" cy="298.36" r="1.6" fill="#c99b80" fill-opacity="1"/>
<circle cx="557.63" cy="323.13" r="1.6" fill="#c99b80" fill-opacity="1"/>
<circle cx="573.13" cy="288.81" r="1.6" fill="#c99b80" fill-opacity="1"/>
<circle cx="557.21" cy="287.88" r="1.6" fill="#c99b80" fill-opacity="1"/>
<circle cx="570.08" cy="302.31" r="1.6" fill="#c99b80" fill-opacity="1"/>
<circle cx="567.45" cy="302.65" r="1.6" fill="#c99b80" fill-opacity="1"/>
<circle cx="560.15" cy="285.65" r="1.6" fill="#c99b80" fill-opacity="1"/>
<circle cx="563.39" cy="314.75" r="1.6" fill="#c99b80" fill-opacity="1"/>
<circle cx="557.06" cy="285.03" r="1.6" fill="#c99b80" fill-opacity="1"/>
<circle cx="570.22" cy="326.52" r="1.6" fill="#c99b80" fill-opacity="1"/>
<circle cx="558.55" cy="312.44" r="1.6" fill="#c99b80" fill-opacity="1"/>
<circle cx="560.43" cy="282.99" r="1.6" fill="#c99b80" fill-opacity="1"/>
<circle cx="559.77" cy="327.85" r="1.6" fill="#c99b80" fill-opacity="1"/>
<circle cx="557.6" cy="299.63" r="1.6" fill="#c99b80" fill-opacity="1"/>
<circle cx="573.86" cy="313.06" r="1.6" fill="#c99b80" fill-opacity="1"/>
<circle cx="570.05" cy="322.31" r="1.6" fill="#c99b80" fill-opacity="1"/>
<circle cx="565.02" cy="301.99" r="1.6" fill="#c99b80" fill-opacity="1"/>
<circle cx="557.53" cy="323.7" r="1.6" fill="#c99b80" fill-opacity="1"/>
<circle cx="572.02" cy="313.07" r="1.6" fill="#c99b80" fill-opacity="1"/>
<circle cx="557.44" cy="280.73" r="1.6" fill="#c99b80" fill-opacity="1"/>
<circle cx="560.44" cy="313.16" r="1.6" fill="#c99b80" fill-opacity="1"/>
<circle cx="559.31" cy="318.32" r="1.6" fill="#c99b80" fill-opacity="1"/>
<circle cx="566.51" cy="317.64" r="1.6" fill="#c99b80" fill-opacity="1"/>
<circle cx="572.22" cy="283.53" r="1.6" fill="#c99b80" fill-opacity="1"/>
<circle cx="569.56" cy="290.33" r="1.6" fill="#c99b80" fill-opacity="1"/>
<circle cx="560.49" cy="315.41" r="1.6" fill="#c99b80" fill-opacity="1"/>
<circle cx="572.62" cy="256.83" r="1.6" fill="#c99b80" fill-opacity="1"/>
<circle cx="570.49" cy="306.95" r="1.6" fill="#c99b80" fill-opacity="1"/>
<circle cx="565.88" cy="289.99" r="1.6" fill="#c99b80" fill-opacity="1"/>
<circle cx="561.46" cy="291.85" r="1.6" fill="#c99b80" fill-opacity="1"/>
<circle cx="558.16" cy="251.6" r="1.6" fill="#c99b80" fill-opacity="1"/>
<circle cx="568.26" cy="251.06" r="1.6" fill="#c99b80" fill-opacity="1"/>
<circle cx="559.07" cy="317.98" r="1.6" fill="#c99b80" fill-opacity="1"/>
<circle cx="557.93" cy="273.3" r="1.6" fill="#c99b80" fill-opacity="1"/>
<circle cx="566.58" cy="321.07" r="1.6" fill="#c99b80" fill-opacity="1"/>
<circle cx="560.62" cy="288.35" r="1.6" fill="#c99b80" fill-opacity="1"/>
<circle cx="557.12" cy="317.71" r="1.6" fill="#c99b80" fill-opacity="1"/>
<circle cx="570.67" cy="287.15" r="1.6" fill="#c99b80" fill-opacity="1"/>
<circle cx="566.26" cy="258.72" r="1.6" fill="#c99b80" fill-opacity="1"/>
<circle cx="568.32" cy="286.68" r="1.6" fill="#c99b80" fill-opacity="1"/>
<circle cx="570.05" cy="303.42" r="1.6" fill="#c99b80" fill-opacity="1"/>
<circle cx="557.35" cy="308.9" r="1.6" fill="#c99b80" fill-opacity="1"/>
<circle cx="565.21" cy="321.54" r="1.6" fill="#c99b80" fill-opacity="1"/>
<circle cx="559.26" cy="276.3" r="1.6" fill="#c99b80" fill-opacity="1"/>
<circle cx="565.79" cy="305.29" r="1.6" fill="#c99b80" fill-opacity="1"/>
<circle cx="570.97" cy="318.7" r="1.6" fill="#c99b80" fill-opacity="1"/>
<circle cx="563.38" cy="322.14" r="1.6" fill="#c99b80" fill-opacity="1"/>
<circle cx="560.87" cy="285.37" r="1.6" fill="#c99b80" fill-opacity="1"/>
<circle cx="558.52" cy="302.31" r="1.6" fill="#c99b80" fill-opacity="1"/>
<circle cx="571.95" cy="321.23" r="1.6" fill="#c99b80" fill-opacity="1"/>
<circle cx="571.48" cy="295.51" r="1.6" fill="#c99b80" fill-opacity="1"/>
<circle cx="571.88" cy="287.26" r="1.6" fill="#c99b80" fill-opacity="1"/>
<circle cx="571.12" cy="324.96" r="1.6" fill="#c99b80" fill-opacity="1"/>
<circle cx="559.75" cy="304.82" r="1.6" fill="#c99b80" fill-opacity="1"/>
<circle cx="559.44" cy="286.86" r="1.6" fill="#c99b80" fill-opacity="1"/>
<circle cx="566.11" cy="311.72" r="1.6" fill="#c99b80" fill-opacity="1"/>
<circle cx="556.99" cy="270.81" r="1.6" fill="#c99b80" fill-opacity="1"/>
<circle cx="565.17" cy="308.63" r="1.6" fill="#c99b80" fill-opacity="1"/>
<circle cx="558.19" cy="294.78" r="1.6" fill="#c99b80" fill-opacity="1"/>
<circle cx="562.97" cy="318.58" r="1.6" fill="#c99b80" fill-opacity="1"/>
<circle cx="567.55" cy="248.66" r="1.6" fill="#c99b80" fill-opacity="1"/>
<circle cx="562.23" cy="292.96" r="1.6" fill="#c99b80" fill-opacity="1"/>
<circle cx="572.39" cy="281.76" r="1.6" fill="#c99b80" fill-opacity="1"/>
<circle cx="570.28" cy="303.79" r="1.6" fill="#c99b80" fill-opacity="1"/>
<circle cx="559.29" cy="295.39" r="1.6" fill="#c99b80" fill-opacity="1"/>
<circle cx="568.16" cy="284.44" r="1.6" fill="#c99b80" fill-opacity="1"/>
<circle cx="559.35" cy="327.53" r="1.6" fill="#c99b80" fill-opacity="1"/>
<circle cx="572.23" cy="286.85" r="1.6" fill="#c99b80" fill-opacity="1"/>
<circle cx="562.86" cy="308.16" r="1.6" fill="#c99b80" fill-opacity="1"/>
<circle cx="563.74" cy="300.44" r="1.6" fill="#c99b80" fill-opacity="1"/>
<circle cx="568.02" cy="286.84" r="1.6" fill="#c99b80" fill-opacity="1"/>
<circle cx="557.29" cy="312.29" r="1.6" fill="#c99b80" fill-opacity="1"/>
<circle cx="571.01" cy="317.39" r="1.6" fill="#c99b80" fill-opacity="1"/>
<circle cx="573.11" cy="264.32" r="1.6" fill="#c99b80" fill-opacity="1"/>
<circle cx="565.32" cy="321.67" r="1.6" fill="#c99b80" fill-opacity="1"/>
<circle cx="569.82" cy="288.2" r="1.6" fill="#c99b80" fill-opacity="1"/>
<circle cx="567.98" cy="287.15" r="1.6" fill="#c99b80" fill-opacity="1"/>
<circle cx="567.4" cy="290.99" r="1.6" fill="#c99b80" fill-opacity="1"/>
<circle cx="572.67" cy="285.5" r="1.6" fill="#c99b80" fill-opacity="1"/>
<circle cx="572.15" cy="307.81" r="1.6" fill="#c99b80" fill-opacity="1"/>
<circle cx="560.82" cy="297.31" r="1.6" fill="#c99b80" fill-opacity="1"/>
<circle cx="573.84" cy="307.4" r="1.6" fill="#c99b80" fill-opacity="1"/>
<circle cx="563.71" cy="283.59" r="1.6" fill="#c99b80" fill-opacity="1"/>
<circle cx="563.9" cy="285.78" r="1.6" fill="#c99b80" fill-opacity="1"/>
<circle cx="566.08" cy="326.35" r="1.6" fill="#c99b80" fill-opacity="1"/>
<circle cx="563.09" cy="292.89" r="1.6" fill="#c99b80" fill-opacity="1"/>
<circle cx="559.55" cy="275.57" r="1.6" fill="#c99b80" fill-opacity="1"/>
<circle cx="573.69" cy="317.11" r="1.6" fill="#c99b80" fill-opacity="1"/>
<circle cx="562.21" cy="276.5" r="1.6" fill="#c99b80" fill-opacity="1"/>
<circle cx="560.68" cy="325.48" r="1.6" fill="#c99b80" fill-opacity="1"/>
<circle cx="570.12" cy="257.46" r="1.6" fill="#c99b80" fill-opacity="1"/>
<circle cx="561.99" cy="325.71" r="1.6" fill="#c99b80" fill-opacity="1"/>
<circle cx="570.34" cy="286.94" r="1.6" fill="#c99b80" fill-opacity="1"/>
<circle cx="573.21" cy="293.87" r="1.6" fill="#c99b80" fill-opacity="1"/>
<circle cx="559.58" cy="308.93" r="1.6" fill="#c99b80" fill-opacity="1"/>
<circle cx="562.28" cy="328.13" r="1.6" fill="#c99b80" fill-opacity="1"/>
<circle cx="573.77" cy="327.78" r="1.6" fill="#c99b80" fill-opacity="1"/>
<circle cx="568.83" cy="303.45" r="1.6" fill="#c99b80" fill-opacity="1"/>
<circle cx="573.09" cy="292.3" r="1.6" fill="#c99b80" fill-opacity="1"/>
<circle cx="566.42" cy="270.27" r="1.6" fill="#c99b80" fill-opacity="1"/>
<circle cx="566.29" cy="291.31" r="1.6" fill="#c99b80" fill-opacity="1"/>
<circle cx="571.25" cy="299.56" r="1.6" fill="#c99b80" fill-opacity="1"/>
<circle cx="559.76" cy="315.78" r="1.6" fill="#c99b80" fill-opacity="1"/>
<circle cx="563.55" cy="286.14" r="1.6" fill="#c99b80" fill-opacity="1"/>
<circle cx="562.48" cy="289.31" r="1.6" fill="#c99b80" fill-opacity="1"/>
<circle cx="557.38" cy="310.45" r="1.6" fill="#c99b80" fill-opacity="1"/>
<circle cx="573.22" cy="287.3" r="1.6" fill="#c99b80" fill-opacity="1"/>
<circle cx="571.33" cy="326.67" r="1.6" fill="#c99b80" fill-opacity="1"/>
<circle cx="566.31" cy="286.4" r="1.6" fill="#c99b80" fill-opacity="1"/>
<circle cx="560.05" cy="306.02" r="1.6" fill="#c99b80" fill-opacity="1"/>
<circle cx="568.91" cy="247.57" r="1.6" fill="#c99b80" fill-opacity="1"/>
<circle cx="563.35" cy="253.43" r="1.6" fill="#c99b80" fill-opacity="1"/>
<circle cx="566.88" cy="262.31" r="1.6" fill="#c99b80" fill-opacity="1"/>
<circle cx="572.4" cy="321.25" r="1.6" fill="#c99b80" fill-opacity="1"/>
<circle cx="572.15" cy="307.1" r="1.6" fill="#c99b80" fill-opacity="1"/>
<circle cx="567.64" cy="301.26" r="1.6" fill="#c99b80" fill-opacity="1"/>
<circle cx="568.15" cy="303.93" r="1.6" fill="#c99b80" fill-opacity="1"/>
<circle cx="567.53" cy="303.37" r="1.6" fill="#c99b80" fill-opacity="1"/>
<circle cx="572.06" cy="304.29" r="1.6" fill="#c99b80" fill-opacity="1"/>
<circle cx="568.09" cy="258.26" r="1.6" fill="#c99b80" fill-opacity="1"/>
<circle cx="565.86" cy="293.03" r="1.6" fill="#c99b80" fill-opacity="1"/>
<circle cx="558.29" cy="284.62" r="1.6" fill="#c99b80" fill-opacity="1"/>
<circle cx="566.18" cy="294.58" r="1.6" fill="#c99b80" fill-opacity="1"/>
<circle cx="560.31" cy="298.18" r="1.6" fill="#c99b80" fill-opacity="1"/>
<circle cx="572.34" cy="319.36" r="1.6" fill="#c99b80" fill-opacity="1"/>
<circle cx="573.53" cy="300.11" r="1.6" fill="#c99b80" fill-opacity="1"/>
<circle cx="556.92" cy="280.36" r="1.6" fill="#c99b80" fill-opacity="1"/>
<circle cx="567.48" cy="275.57" r="1.6" fill="#c99b80" fill-opacity="1"/>
<circle cx="557.48" cy="319.92" r="1.6" fill="#c99b80" fill-opacity="1"/>
<circle cx="563.02" cy="314.63" r="1.6" fill="#c99b80" fill-opacity="1"/>
<circle cx="570.77" cy="268.43" r="1.6" fill="#c99b80" fill-opacity="1"/>
<circle cx="567.18" cy="310.97" r="1.6" fill="#c99b80" fill-opacity="1"/>
<circle cx="573.47" cy="323.68" r="1.6" fill="#c99b80" fill-opacity="1"/>
<circle cx="561.98" cy="259.98" r="1.6" fill="#c99b80" fill-opacity="1"/>
<circle cx="568.88" cy="290.36" r="1.6" fill="#c99b80" fill-opacity="1"/>
<circle cx="557.21" cy="314.18" r="1.6" fill="#c99b80" fill-opacity="1"/>
<circle cx="561.59" cy="253.92" r="1.6" fill="#c99b80" fill-opacity="1"/>
<circle cx="567.57" cy="283.42" r="1.6" fill="#c99b80" fill-opacity="1"/>
<circle cx="567.44" cy="285.21" r="1.6" fill="#c99b80" fill-opacity="1"/>
<circle cx="557.41" cy="309.13" r="1.6" fill="#c99b80" fill-opacity="1"/>
<circle cx="572.45" cy="312.49" r="1.6" fill="#c99b80" fill-opacity="1"/>
<circle cx="558.37" cy="319.63" r="1.6" fill="#c99b80" fill-opacity="1"/>
<circle cx="558.47" cy="286.92" r="1.6" fill="#c99b80" fill-opacity="1"/>
<circle cx="568.27" cy="317.58" r="1.6" fill="#c99b80" fill-opacity="1"/>
<circle cx="558.84" cy="280.71" r="1.6" fill="#c99b80" fill-opacity="1"/>
<circle cx="573.74" cy="309.97" r="1.6" fill="#c99b80" fill-opacity="1"/>
<circle cx="571.24" cy="325.64" r="1.6" fill="#c99b80" fill-opacity="1"/>
<circle cx="561.94" cy="317.13" r="1.6" fill="#c99b80" fill-opacity="1"/>
<circle cx="572.32" cy="292.22" r="1.6" fill="#c99b80" fill-opacity="1"/>
<circle cx="559.95" cy="318.59" r="1.6" fill="#c99b80" fill-opacity="1"/>
<circle cx="569.93" cy="301.41" r="1.6" fill="#c99b80" fill-opacity="1"/>
<circle cx="557.49" cy="326.09" r="1.6" fill="#c99b80" fill-opacity="1"/>
<circle cx="573.61" cy="311.88" r="1.6" fill="#c99b80" fill-opacity="1"/>
<circle cx="573.73" cy="296.52" r="1.6" fill="#c99b80" fill-opacity="1"/>
<circle cx="573.15" cy="325.98" r="1.6" fill="#c99b80" fill-opacity="1"/>
<circle cx="573.54" cy="272.36" r="1.6" fill="#c99b80" fill-opacity="1"/>
<circle cx="568.87" cy="317.93" r="1.6" fill="#c99b80" fill-opacity="1"/>
<circle cx="558.67" cy="289.57" r="1.6" fill="#c99b80" fill-opacity="1"/>
<circle cx="565.04" cy="326.89" r="1.6" fill="#c99b80" fill-opacity="1"/>
<circle cx="563.06" cy="293.96" r="1.6" fill="#c99b80" fill-opacity="1"/>
<circle cx="569.79" cy="289.64" r="1.6" fill="#c99b80" fill-opacity="1"/>
<circle cx="560.63" cy="326.71" r="1.6" fill="#c99b80" fill-opacity="1"/>
<circle cx="560.21" cy="321.79" r="1.6" fill="#c99b80" fill-opacity="1"/>
<circle cx="563.08" cy="296.81" r="1.6" fill="#c99b80" fill-opacity="1"/>
<circle cx="560.14" cy="288.11" r="1.6" fill="#c99b80" fill-opacity="1"/>
<circle cx="560.51" cy="302.08" r="1.6" fill="#c99b80" fill-opacity="1"/>
<circle cx="570.93" cy="326.26" r="1.6" fill="#c99b80" fill-opacity="1"/>
<circle cx="565.35" cy="288.19" r="1.6" fill="#c99b80" fill-opacity="1"/>
<circle cx="569.13" cy="324.92" r="1.6" fill="#c99b80" fill-opacity="1"/>
<circle cx="563.29" cy="314.71" r="1.6" fill="#c99b80" fill-opacity="1"/>
<circle cx="564.49" cy="311.46" r="1.6" fill="#c99b80" fill-opacity="1"/>
<circle cx="570.22" cy="328.15" r="1.6" fill="#c99b80" fill-opacity="1"/>
<circle cx="558.85" cy="295.73" r="1.6" fill="#c99b80" fill-opacity="1"/>
<circle cx="572.11" cy="308.43" r="1.6" fill="#c99b80" fill-opacity="1"/>
<circle cx="565.86" cy="302.19" r="1.6" fill="#c99b80" fill-opacity="1"/>
<circle cx="567.1" cy="321.3" r="1.6" fill="#c99b80" fill-opacity="1"/>
<circle cx="557.29" cy="291.29" r="1.6" fill="#c99b80" fill-opacity="1"/>
<circle cx="559.25" cy="304.8" r="1.6" fill="#c99b80" fill-opacity="1"/>
<circle cx="561.75" cy="326.36" r="1.6" fill="#c99b80" fill-opacity="1"/>
<circle cx="567.68" cy="312.08" r="1.6" fill="#c99b80" fill-opacity="1"/>
<circle cx="568.39" cy="324.46" r="1.6" fill="#c99b80" fill-opacity="1"/>
<circle cx="572.82" cy="287.9" r="1.6" fill="#c99b80" fill-opacity="1"/>
<circle cx="566.04" cy="311.77" r="1.6" fill="#c99b80" fill-opacity="1"/>
<circle cx="571.57" cy="296.5" r="1.6" fill="#c99b80" fill-opacity="1"/>
<circle cx="558.93" cy="322.99" r="1.6" fill="#c99b80" fill-opacity="1"/>
<circle cx="573.69" cy="276.87" r="1.6" fill="#c99b80" fill-opacity="1"/>
<circle cx="567.05" cy="320.18" r="1.6" fill="#c99b80" fill-opacity="1"/>
<circle cx="571.76" cy="318.91" r="1.6" fill="#c99b80" fill-opacity="1"/>
<circle cx="570.24" cy="317.48" r="1.6" fill="#c99b80" fill-opacity="1"/>
<circle cx="561.37" cy="293.91" r="1.6" fill="#c99b80" fill-opacity="1"/>
<circle cx="571.62" cy="322.94" r="1.6" fill="#c99b80" fill-opacity="1"/>
<circle cx="561.7" cy="322.97" r="1.6" fill="#c99b80" fill-opacity="1"/>
<circle cx="572" cy="287.89" r="1.6" fill="#c99b80" fill-opacity="1"/>
<circle cx="556.95" cy="310.55" r="1.6" fill="#c99b80" fill-opacity="1"/>
<circle cx="571.26" cy="289.42" r="1.6" fill="#c99b80" fill-opacity="1"/>
<circle cx="558.26" cy="323.43" r="1.6" fill="#c99b80" fill-opacity="1"/>
<circle cx="561.72" cy="303.11" r="1.6" fill="#c99b80" fill-opacity="1"/>
<circle cx="570.81" cy="251.7" r="1.6" fill="#c99b80" fill-opacity="1"/>
<circle cx="572.59" cy="317.76" r="1.6" fill="#c99b80" fill-opacity="1"/>
<circle cx="556.96" cy="287.3" r="1.6" fill="#c99b80" fill-opacity="1"/>
<circle cx="564.11" cy="309.03" r="1.6" fill="#c99b80" fill-opacity="1"/>
<circle cx="568.25" cy="321.01" r="1.6" fill="#c99b80" fill-opacity="1"/>
<circle cx="566.24" cy="294.4" r="1.6" fill="#c99b80" fill-opacity="1"/>
<circle cx="564.32" cy="300.87" r="1.6" fill="#c99b80" fill-opacity="1"/>
<circle cx="569.85" cy="327.28" r="1.6" fill="#c99b80" fill-opacity="1"/>
<circle cx="561.61" cy="311.71" r="1.6" fill="#c99b80" fill-opacity="1"/>
<circle cx="567.8" cy="300.09" r="1.6" fill="#c99b80" fill-opacity="1"/>
<circle cx="559.57" cy="317.32" r="1.6" fill="#c99b80" fill-opacity="1"/>
<circle cx="564.12" cy="279.01" r="1.6" fill="#c99b80" fill-opacity="1"/>
<circle cx="569.8" cy="311.41" r="1.6" fill="#c99b80" fill-opacity="1"/>
<circle cx="561.11" cy="294.02" r="1.6" fill="#c99b80" fill-opacity="1"/>
<circle cx="565.1" cy="299.33" r="1.6" fill="#c99b80" fill-opacity="1"/>
<circle cx="566.77" cy="293.91" r="1.6" fill="#c99b80" fill-opacity="1"/>
<circle cx="573.18" cy="298.99" r="1.6" fill="#c99b80" fill-opacity="1"/>
<circle cx="573.14" cy="291.28" r="1.6" fill="#c99b80" fill-opacity="1"/>
<circle cx="562.07" cy="311.81" r="1.6" fill="#c99b80" fill-opacity="1"/>
<circle cx="562.27" cy="312.3" r="1.6" fill="#c99b80" fill-opacity="1"/>
<circle cx="561.87" cy="322.84" r="1.6" fill="#c99b80" fill-opacity="1"/>
<circle cx="562.26" cy="306.85" r="1.6" fill="#c99b80" fill-opacity="1"/>
<circle cx="562.48" cy="265.03" r="1.6" fill="#c99b80" fill-opacity="1"/>
<circle cx="558.53" cy="286.86" r="1.6" fill="#c99b80" fill-opacity="1"/>
<circle cx="557" cy="287.29" r="1.6" fill="#c99b80" fill-opacity="1"/>
<circle cx="568.04" cy="287.3" r="1.6" fill="#c99b80" fill-opacity="1"/>
<circle cx="561.07" cy="298.57" r="1.6" fill="#c99b80" fill-opacity="1"/>
<circle cx="561.01" cy="283.75" r="1.6" fill="#c99b80" fill-opacity="1"/>
<circle cx="561.84" cy="305.82" r="1.6" fill="#c99b80" fill-opacity="1"/>
<circle cx="558.53" cy="319.25" r="1.6" fill="#c99b80" fill-opacity="1"/>
<circle cx="573.79" cy="328.44" r="1.6" fill="#c99b80" fill-opacity="1"/>
<circle cx="566.38" cy="305.74" r="1.6" fill="#c99b80" fill-opacity="1"/>
<circle cx="562.84" cy="284.81" r="1.6" fill="#c99b80" fill-opacity="1"/>
<circle cx="563.08" cy="301.79" r="1.6" fill="#c99b80" fill-opacity="1"/>
<circle cx="565.23" cy="277.88" r="1.6" fill="#c99b80" fill-opacity="1"/>
<circle cx="569.32" cy="282.76" r="1.6" fill="#c99b80" fill-opacity="1"/>
<circle cx="563.49" cy="315.5" r="1.6" fill="#c99b80" fill-opacity="1"/>
<circle cx="561.76" cy="328.18" r="1.6" fill="#c99b80" fill-opacity="1"/>
<circle cx="569.44" cy="323.16" r="1.6" fill="#c99b80" fill-opacity="1"/>
<circle cx="562.3" cy="258.24" r="1.6" fill="#c99b80" fill-opacity="1"/>
<circle cx="563.63" cy="288.91" r="1.6" fill="#c99b80" fill-opacity="1"/>
<circle cx="572.55" cy="287.19" r="1.6" fill="#c99b80" fill-opacity="1"/>
<circle cx="571.02" cy="249.25" r="1.6" fill="#c99b80" fill-opacity="1"/>
<circle cx="569.1" cy="295.49" r="1.6" fill="#c99b80" fill-opacity="1"/>
<circle cx="567.47" cy="277.75" r="1.6" fill="#c99b80" fill-opacity="1"/>
<circle cx="562.6" cy="285.77" r="1.6" fill="#c99b80" fill-opacity="1"/>
<circle cx="567.6" cy="318.23" r="1.6" fill="#c99b80" fill-opacity="1"/>
<circle cx="560.04" cy="298.35" r="1.6" fill="#c99b80" fill-opacity="1"/>
<circle cx="562.93" cy="303.64" r="1.6" fill="#c99b80" fill-opacity="1"/>
<circle cx="571.26" cy="310.53" r="1.6" fill="#c99b80" fill-opacity="1"/>
<circle cx="557.1" cy="318.37" r="1.6" fill="#c99b80" fill-opacity="1"/>
<circle cx="564.88" cy="290.73" r="1.6" fill="#c99b80" fill-opacity="1"/>
<circle cx="559.3" cy="297.73" r="1.6" fill="#c99b80" fill-opacity="1"/>
<circle cx="569.09" cy="312.82" r="1.6" fill="#c99b80" fill-opacity="1"/>
<circle cx="573.49" cy="292.22" r="1.6" fill="#c99b80" fill-opacity="1"/>
<circle cx="573.39" cy="265.46" r="1.6" fill="#c99b80" fill-opacity="1"/>
<circle cx="562.81" cy="268.87" r="1.6" fill="#c99b80" fill-opacity="1"/>
<circle cx="570.27" cy="290.84" r="1.6" fill="#c99b80" fill-opacity="1"/>
<circle cx="568.27" cy="268.82" r="1.6" fill="#c99b80" fill-opacity="1"/>
<circle cx="560.08" cy="307.48" r="1.6" fill="#c99b80" fill-opacity="1"/>
<circle cx="557.2" cy="299.25" r="1.6" fill="#c99b80" fill-opacity="1"/>
<circle cx="562.08" cy="259.39" r="1.6" fill="#c99b80" fill-opacity="1"/>
<circle cx="570.01" cy="318.92" r="1.6" fill="#c99b80" fill-opacity="1"/>
<circle cx="571.15" cy="318.94" r="1.6" fill="#c99b80" fill-opacity="1"/>
<circle cx="557.86" cy="297.83" r="1.6" fill="#c99b80" fill-opacity="1"/>
<circle cx="569.17" cy="323.34" r="1.6" fill="#c99b80" fill-opacity="1"/>
<circle cx="570.47" cy="298.54" r="1.6" fill="#c99b80" fill-opacity="1"/>
<circle cx="559.86" cy="321.32" r="1.6" fill="#c99b80" fill-opacity="1"/>
<circle cx="570.43" cy="326.23" r="1.6" fill="#c99b80" fill-opacity="1"/>
<circle cx="565.1" cy="328.34" r="1.6" fill="#c99b80" fill-opacity="1"/>
<circle cx="566.71" cy="308.19" r="1.6" fill="#c99b80" fill-opacity="1"/>
<circle cx="562.65" cy="288.53" r="1.6" fill="#c99b80" fill-opacity="1"/>
<circle cx="561.17" cy="300.08" r="1.6" fill="#c99b80" fill-opacity="1"/>
<circle cx="562.64" cy="318.41" r="1.6" fill="#c99b80" fill-opacity="1"/>
<circle cx="563.44" cy="289.08" r="1.6" fill="#c99b80" fill-opacity="1"/>
<circle cx="565.22" cy="325.6" r="1.6" fill="#c99b80" fill-opacity="1"/>
<circle cx="571.36" cy="315.75" r="1.6" fill="#c99b80" fill-opacity="1"/>
<circle cx="571.27" cy="289.16" r="1.6" fill="#c99b80" fill-opacity="1"/>
<circle cx="568.87" cy="289.85" r="1.6" fill="#c99b80" fill-opacity="1"/>
<circle cx="572.5" cy="304.52" r="1.6" fill="#c99b80" fill-opacity="1"/>
<circle cx="559.79" cy="326.81" r="1.6" fill="#c99b80" fill-opacity="1"/>
<circle cx="565.85" cy="303.83" r="1.6" fill="#c99b80" fill-opacity="1"/>
<circle cx="566.51" cy="284.35" r="1.6" fill="#c99b80" fill-opacity="1"/>
<circle cx="561.49" cy="321.01" r="1.6" fill="#c99b80" fill-opacity="1"/>
<circle cx="566.48" cy="323.84" r="1.6" fill="#c99b80" fill-opacity="1"/>
<circle cx="572.65" cy="285.75" r="1.6" fill="#c99b80" fill-opacity="1"/>
<circle cx="570.14" cy="286.97" r="1.6" fill="#c99b80" fill-opacity="1"/>
<circle cx="568.66" cy="251.04" r="1.6" fill="#c99b80" fill-opacity="1"/>
<circle cx="567.96" cy="308.64" r="1.6" fill="#c99b80" fill-opacity="1"/>
<circle cx="571.94" cy="299.06" r="1.6" fill="#c99b80" fill-opacity="1"/>
<circle cx="562.11" cy="300.77" r="1.6" fill="#c99b80" fill-opacity="1"/>
<circle cx="558.5" cy="323.11" r="1.6" fill="#c99b80" fill-opacity="1"/>
<circle cx="570.96" cy="297.76" r="1.6" fill="#c99b80" fill-opacity="1"/>
<circle cx="570.7" cy="286.78" r="1.6" fill="#c99b80" fill-opacity="1"/>
<circle cx="572.39" cy="297.89" r="1.6" fill="#c99b80" fill-opacity="1"/>
<circle cx="567.08" cy="323.83" r="1.6" fill="#c99b80" fill-opacity="1"/>
<circle cx="571.93" cy="322.75" r="1.6" fill="#c99b80" fill-opacity="1"/>
<circle cx="560.14" cy="306.17" r="1.6" fill="#c99b80" fill-opacity="1"/>
<circle cx="559.7" cy="250.84" r="1.6" fill="#c99b80" fill-opacity="1"/>
<circle cx="557.44" cy="284.99" r="1.6" fill="#c99b80" fill-opacity="1"/>
<circle cx="564.81" cy="319.97" r="1.6" fill="#c99b80" fill-opacity="1"/>
<circle cx="559.82" cy="299.95" r="1.6" fill="#c99b80" fill-opacity="1"/>
<circle cx="570.85" cy="309.09" r="1.6" fill="#c99b80" fill-opacity="1"/>
<circle cx="572.43" cy="311.88" r="1.6" fill="#c99b80" fill-opacity="1"/>
<circle cx="570.59" cy="290.84" r="1.6" fill="#c99b80" fill-opacity="1"/>
<circle cx="558.8" cy="312.9" r="1.6" fill="#c99b80" fill-opacity="1"/>
<circle cx="572.24" cy="290.95" r="1.6" fill="#c99b80" fill-opacity="1"/>
<circle cx="565.21" cy="280.56" r="1.6" fill="#c99b80" fill-opacity="1"/>
<circle cx="563.27" cy="287.23" r="1.6" fill="#c99b80" fill-opacity="1"/>
<circle cx="567.29" cy="293.08" r="1.6" fill="#c99b80" fill-opacity="1"/>
<circle cx="559.9" cy="229.4" r="1.6" fill="#c99b80" fill-opacity="1"/>
<circle cx="570.2" cy="246.5" r="1.6" fill="#c99b80" fill-opacity="1"/>
<circle cx="570.2" cy="250.8" r="1.6" fill="#c99b80" fill-opacity="1"/>
<circle cx="557.3" cy="253.6" r="1.6" fill="#c99b80" fill-opacity="1"/>
<circle cx="561.5" cy="252.6" r="1.6" fill="#c99b80" fill-opacity="1"/>
<circle cx="617.13" cy="289.38" r="1.15" fill="#f3acab" fill-opacity="1"/>
<circle cx="619.03" cy="270.23" r="1.15" fill="#f3acab" fill-opacity="1"/>
<circle cx="619.35" cy="314.46" r="1.15" fill="#f3acab" fill-opacity="1"/>
<circle cx="606.9" cy="288.22" r="1.15" fill="#f3acab" fill-opacity="1"/>
<circle cx="613.36" cy="304.82" r="1.15" fill="#f3acab" fill-opacity="1"/>
<circle cx="608.45" cy="294.7" r="1.15" fill="#f3acab" fill-opacity="1"/>
<circle cx="616.69" cy="295.91" r="1.15" fill="#f3acab" fill-opacity="1"/>
<circle cx="607.28" cy="310.51" r="1.15" fill="#f3acab" fill-opacity="1"/>
<circle cx="605.23" cy="293.88" r="1.15" fill="#f3acab" fill-opacity="1"/>
<circle cx="608.43" cy="285.72" r="1.15" fill="#f3acab" fill-opacity="1"/>
<circle cx="609.54" cy="264.27" r="1.15" fill="#f3acab" fill-opacity="1"/>
<circle cx="615.37" cy="277.73" r="1.15" fill="#f3acab" fill-opacity="1"/>
<circle cx="615.56" cy="308.8" r="1.15" fill="#f3acab" fill-opacity="1"/>
<circle cx="609.68" cy="263.24" r="1.15" fill="#f3acab" fill-opacity="1"/>
<circle cx="607.39" cy="305.89" r="1.15" fill="#f3acab" fill-opacity="1"/>
<circle cx="614.25" cy="316.41" r="1.15" fill="#f3acab" fill-opacity="1"/>
<circle cx="610.27" cy="311.93" r="1.15" fill="#f3acab" fill-opacity="1"/>
<circle cx="612.41" cy="297.21" r="1.15" fill="#f3acab" fill-opacity="1"/>
<circle cx="615.77" cy="301.7" r="1.15" fill="#f3acab" fill-opacity="1"/>
<circle cx="605.54" cy="308.4" r="1.15" fill="#f3acab" fill-opacity="1"/>
<circle cx="605.47" cy="288.63" r="1.15" fill="#f3acab" fill-opacity="1"/>
<circle cx="613.88" cy="282.63" r="1.15" fill="#f3acab" fill-opacity="1"/>
<circle cx="607.91" cy="319.44" r="1.15" fill="#f3acab" fill-opacity="1"/>
<circle cx="616.54" cy="285.91" r="1.15" fill="#f3acab" fill-opacity="1"/>
<circle cx="610.37" cy="260.83" r="1.15" fill="#f3acab" fill-opacity="1"/>
<circle cx="616.83" cy="301.12" r="1.15" fill="#f3acab" fill-opacity="1"/>
<circle cx="617.16" cy="311.09" r="1.15" fill="#f3acab" fill-opacity="1"/>
<circle cx="619.39" cy="287.42" r="1.15" fill="#f3acab" fill-opacity="1"/>
<circle cx="615.5" cy="252" r="1.15" fill="#f3acab" fill-opacity="1"/>
<circle cx="619" cy="252.5" r="1.15" fill="#f3acab" fill-opacity="1"/>
<circle cx="644.61" cy="258.2" r="1.6" fill="#c9797a" fill-opacity="1"/>
<circle cx="646.92" cy="311.19" r="1.6" fill="#c9797a" fill-opacity="1"/>
<circle cx="643.15" cy="297.52" r="1.6" fill="#c9797a" fill-opacity="1"/>
<circle cx="648.72" cy="272.1" r="1.6" fill="#c9797a" fill-opacity="1"/>
<circle cx="645.3" cy="287.32" r="1.6" fill="#c9797a" fill-opacity="1"/>
<circle cx="645.5" cy="290.46" r="1.6" fill="#c9797a" fill-opacity="1"/>
<circle cx="648.74" cy="272.28" r="1.6" fill="#c9797a" fill-opacity="1"/>
<circle cx="642.66" cy="281.21" r="1.6" fill="#c9797a" fill-opacity="1"/>
<circle cx="648.76" cy="313.92" r="1.6" fill="#c9797a" fill-opacity="1"/>
<circle cx="640.86" cy="309.51" r="1.6" fill="#c9797a" fill-opacity="1"/>
<circle cx="650.67" cy="289.07" r="1.6" fill="#c9797a" fill-opacity="1"/>
<circle cx="646.82" cy="290.35" r="1.6" fill="#c9797a" fill-opacity="1"/>
<circle cx="650.12" cy="294.41" r="1.6" fill="#c9797a" fill-opacity="1"/>
<circle cx="647.37" cy="284.05" r="1.6" fill="#c9797a" fill-opacity="1"/>
<circle cx="638.67" cy="254.3" r="1.6" fill="#c9797a" fill-opacity="1"/>
<circle cx="642.26" cy="300.37" r="1.6" fill="#c9797a" fill-opacity="1"/>
<circle cx="649.74" cy="291.93" r="1.6" fill="#c9797a" fill-opacity="1"/>
<circle cx="646.92" cy="291.54" r="1.6" fill="#c9797a" fill-opacity="1"/>
<circle cx="644.59" cy="307.67" r="1.6" fill="#c9797a" fill-opacity="1"/>
<circle cx="649.55" cy="321.95" r="1.6" fill="#c9797a" fill-opacity="1"/>
<circle cx="648.41" cy="293.02" r="1.6" fill="#c9797a" fill-opacity="1"/>
<circle cx="650.06" cy="320.27" r="1.6" fill="#c9797a" fill-opacity="1"/>
<circle cx="643.21" cy="288.85" r="1.6" fill="#c9797a" fill-opacity="1"/>
<circle cx="651.3" cy="308.92" r="1.6" fill="#c9797a" fill-opacity="1"/>
<circle cx="648" cy="319.05" r="1.6" fill="#c9797a" fill-opacity="1"/>
<circle cx="641.49" cy="293.54" r="1.6" fill="#c9797a" fill-opacity="1"/>
<circle cx="647.01" cy="256.43" r="1.6" fill="#c9797a" fill-opacity="1"/>
<circle cx="649.11" cy="267.69" r="1.6" fill="#c9797a" fill-opacity="1"/>
<circle cx="644.42" cy="265.93" r="1.6" fill="#c9797a" fill-opacity="1"/>
<circle cx="639.42" cy="287.39" r="1.6" fill="#c9797a" fill-opacity="1"/>
<circle cx="644.64" cy="289.43" r="1.6" fill="#c9797a" fill-opacity="1"/>
<circle cx="638.58" cy="274.65" r="1.6" fill="#c9797a" fill-opacity="1"/>
<circle cx="642.99" cy="316.78" r="1.6" fill="#c9797a" fill-opacity="1"/>
<circle cx="650.36" cy="303.07" r="1.6" fill="#c9797a" fill-opacity="1"/>
<circle cx="649.73" cy="303.81" r="1.6" fill="#c9797a" fill-opacity="1"/>
<circle cx="644.47" cy="289.4" r="1.6" fill="#c9797a" fill-opacity="1"/>
<circle cx="643.21" cy="308.64" r="1.6" fill="#c9797a" fill-opacity="1"/>
<circle cx="642.5" cy="296.71" r="1.6" fill="#c9797a" fill-opacity="1"/>
<circle cx="650.3" cy="279.42" r="1.6" fill="#c9797a" fill-opacity="1"/>
<circle cx="642.46" cy="300.35" r="1.6" fill="#c9797a" fill-opacity="1"/>
<circle cx="648.61" cy="302.42" r="1.6" fill="#c9797a" fill-opacity="1"/>
<circle cx="638.38" cy="271.64" r="1.6" fill="#c9797a" fill-opacity="1"/>
<circle cx="638.69" cy="310.17" r="1.6" fill="#c9797a" fill-opacity="1"/>
<circle cx="647.64" cy="276.16" r="1.6" fill="#c9797a" fill-opacity="1"/>
<circle cx="649.4" cy="294.31" r="1.6" fill="#c9797a" fill-opacity="1"/>
<circle cx="650.62" cy="322.18" r="1.6" fill="#c9797a" fill-opacity="1"/>
<circle cx="648.47" cy="287.21" r="1.6" fill="#c9797a" fill-opacity="1"/>
<circle cx="644.4" cy="266.56" r="1.6" fill="#c9797a" fill-opacity="1"/>
<circle cx="640.18" cy="319.88" r="1.6" fill="#c9797a" fill-opacity="1"/>
<circle cx="640.18" cy="284.59" r="1.6" fill="#c9797a" fill-opacity="1"/>
<circle cx="639.67" cy="291.82" r="1.6" fill="#c9797a" fill-opacity="1"/>
<circle cx="649.99" cy="286.63" r="1.6" fill="#c9797a" fill-opacity="1"/>
<circle cx="639.95" cy="283.24" r="1.6" fill="#c9797a" fill-opacity="1"/>
<circle cx="646.34" cy="276.89" r="1.6" fill="#c9797a" fill-opacity="1"/>
<circle cx="649.91" cy="256.03" r="1.6" fill="#c9797a" fill-opacity="1"/>
<circle cx="648.59" cy="298.71" r="1.6" fill="#c9797a" fill-opacity="1"/>
<circle cx="650.11" cy="311.97" r="1.6" fill="#c9797a" fill-opacity="1"/>
<circle cx="644.11" cy="297.19" r="1.6" fill="#c9797a" fill-opacity="1"/>
<circle cx="639.13" cy="298.38" r="1.6" fill="#c9797a" fill-opacity="1"/>
<circle cx="642.02" cy="254.25" r="1.6" fill="#c9797a" fill-opacity="1"/>
<circle cx="649.46" cy="276.88" r="1.6" fill="#c9797a" fill-opacity="1"/>
<circle cx="643.9" cy="293.81" r="1.6" fill="#c9797a" fill-opacity="1"/>
<circle cx="639" cy="249" r="1.6" fill="#c9797a" fill-opacity="1"/>
<circle cx="645" cy="250" r="1.6" fill="#c9797a" fill-opacity="1"/>
<path d="M469.3,190.4 V187.3 H628.6 V190.4" fill="none" stroke="#222" stroke-width="0.9"/>
<text x="549.7" y="185.7" font-size="6.3" fill="#222" text-anchor="middle" font-family="Liberation Sans, sans-serif" stroke="#222" stroke-width="0.28" stroke-linejoin="round">0.063</text>
<path d="M549.2,204.0 V200.9 H628.6 V204.0" fill="none" stroke="#222" stroke-width="0.9"/>
<text x="589.4" y="199.0" font-size="6.3" fill="#222" text-anchor="middle" font-family="Liberation Sans, sans-serif" stroke="#222" stroke-width="0.28" stroke-linejoin="round">0.0036</text>
<path d="M469.3,217.0 V213.9 H549.2 V217.0" fill="none" stroke="#222" stroke-width="0.9"/>
<text x="510.2" y="211.8" font-size="6.3" fill="#222" text-anchor="middle" font-family="Liberation Sans, sans-serif" stroke="#222" stroke-width="0.28" stroke-linejoin="round">0.47</text>
<line x1="421.9" y1="180.7" x2="421.9" y2="335.3" stroke="#111" stroke-width="1.3"/>
<line x1="421.3" y1="334.7" x2="676.5" y2="334.7" stroke="#111" stroke-width="1.3"/>
<line x1="470.3" y1="334.7" x2="470.3" y2="336.8" stroke="#222" stroke-width="1"/>
<text x="470.3" y="343.1" font-size="8.2" fill="#222" text-anchor="middle" font-family="Liberation Sans, sans-serif" stroke="#222" stroke-width="0.28" stroke-linejoin="round">shrink</text>
<line x1="551.5" y1="334.7" x2="551.5" y2="336.8" stroke="#222" stroke-width="1"/>
<text x="551.5" y="343.1" font-size="8.2" fill="#222" text-anchor="middle" font-family="Liberation Sans, sans-serif" stroke="#222" stroke-width="0.28" stroke-linejoin="round">no change</text>
<line x1="629.7" y1="334.7" x2="629.7" y2="336.8" stroke="#222" stroke-width="1"/>
<text x="629.7" y="343.1" font-size="8.2" fill="#222" text-anchor="middle" font-family="Liberation Sans, sans-serif" stroke="#222" stroke-width="0.28" stroke-linejoin="round">grow</text>
</svg></body></html>
